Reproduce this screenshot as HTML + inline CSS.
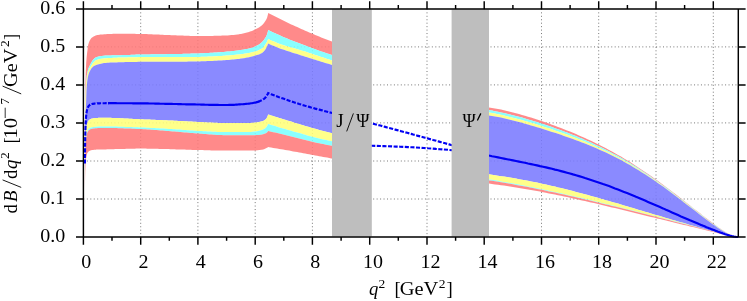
<!DOCTYPE html>
<html><head><meta charset="utf-8"><title>plot</title>
<style>html,body{margin:0;padding:0;background:#fff}body{width:747px;height:301px;overflow:hidden;font-family:"Liberation Serif",serif}svg{display:block;will-change:transform}text{font-family:"Liberation Serif",serif}</style></head>
<body>
<svg width="747" height="301" viewBox="0 0 747 301">
<rect width="747" height="301" fill="#fff"/>
<path d="M140.7,8.9V237.0M197.9,8.9V237.0M255.2,8.9V237.0M312.4,8.9V237.0M369.7,8.9V237.0M427.0,8.9V237.0M484.2,8.9V237.0M541.5,8.9V237.0M598.7,8.9V237.0M656.0,8.9V237.0M713.3,8.9V237.0M83.4,199.0H738.3M83.4,161.0H738.3M83.4,122.9H738.3M83.4,84.9H738.3M83.4,46.9H738.3" stroke="#000" stroke-width="0.9" stroke-dasharray="1 2.45" fill="none" opacity="0.6"/>
<path d="M84.9,132.6 85.0,117.4 85.1,106.3 85.2,97.8 85.3,91.0 85.4,85.6 85.5,81.1 85.6,77.3 85.7,74.0 85.8,71.2 85.9,68.8 86.0,66.7 86.1,64.8 86.2,63.1 86.3,61.6 86.4,60.2 86.5,58.9 86.6,57.8 86.7,56.7 86.8,55.7 86.9,54.8 87.0,53.9 87.1,53.1 87.2,52.3 87.3,51.6 87.4,50.8 87.5,49.9 87.6,49.0 87.7,48.1 87.8,47.2 87.9,46.5 88.0,45.9 88.1,45.4 88.2,44.9 88.3,44.5 88.4,44.1 88.5,43.8 88.6,43.5 88.7,43.2 88.8,42.9 88.9,42.6 89.0,42.3 89.1,42.1 89.2,41.8 89.3,41.6 89.4,41.4 89.5,41.1 89.6,40.9 89.7,40.7 89.8,40.5 89.9,40.3 90.0,40.1 90.2,39.7 90.5,39.2 90.8,38.9 91.0,38.5 91.2,38.2 91.5,38.0 91.8,37.8 92.0,37.6 92.2,37.4 92.5,37.2 92.8,37.0 93.0,36.9 93.2,36.8 93.5,36.6 93.8,36.5 94.0,36.3 94.2,36.2 94.5,36.1 94.8,36.0 95.0,35.8 95.2,35.7 95.5,35.6 95.8,35.5 96.0,35.4 96.2,35.3 96.5,35.3 96.8,35.2 97.0,35.1 97.2,35.1 97.5,35.0 97.8,35.0 98.0,34.9 98.2,34.9 98.5,34.9 98.8,34.8 99.0,34.8 99.2,34.7 99.5,34.7 99.8,34.7 100.0,34.6 101.0,34.5 102.0,34.4 103.0,34.4 104.0,34.3 105.0,34.2 106.0,34.2 107.0,34.1 108.0,34.1 109.0,34.0 110.0,34.0 111.0,33.9 112.0,33.9 113.0,33.8 114.0,33.8 115.0,33.8 116.0,33.8 117.0,33.7 118.0,33.7 119.0,33.7 120.0,33.7 121.0,33.7 122.0,33.7 123.0,33.7 124.0,33.7 125.0,33.7 126.0,33.7 127.0,33.7 128.0,33.7 129.0,33.7 130.0,33.8 131.0,33.8 132.0,33.8 133.0,33.8 134.0,33.8 135.0,33.8 136.0,33.9 137.0,33.9 138.0,33.9 139.0,33.9 140.0,33.9 141.0,34.0 142.0,34.0 143.0,34.0 144.0,34.0 145.0,34.1 146.0,34.1 147.0,34.1 148.0,34.2 149.0,34.2 150.0,34.2 151.0,34.3 152.0,34.3 153.0,34.4 154.0,34.4 155.0,34.5 156.0,34.5 157.0,34.5 158.0,34.6 159.0,34.6 160.0,34.7 161.0,34.7 162.0,34.8 163.0,34.8 164.0,34.9 165.0,34.9 166.0,35.0 167.0,35.0 168.0,35.0 169.0,35.1 170.0,35.1 171.0,35.2 172.0,35.2 173.0,35.2 174.0,35.3 175.0,35.3 176.0,35.3 177.0,35.4 178.0,35.4 179.0,35.5 180.0,35.5 181.0,35.5 182.0,35.6 183.0,35.6 184.0,35.7 185.0,35.7 186.0,35.7 187.0,35.8 188.0,35.8 189.0,35.8 190.0,35.9 191.0,35.9 192.0,35.9 193.0,36.0 194.0,36.0 195.0,36.0 196.0,36.0 197.0,36.0 198.0,36.0 199.0,36.0 200.0,36.0 201.0,36.0 202.0,36.0 203.0,36.0 204.0,36.0 205.0,36.0 206.0,36.0 207.0,35.9 208.0,35.9 209.0,35.9 210.0,35.9 211.0,35.9 212.0,35.9 213.0,35.9 214.0,35.8 215.0,35.8 216.0,35.8 217.0,35.8 218.0,35.8 219.0,35.7 220.0,35.7 221.0,35.7 222.0,35.6 223.0,35.6 224.0,35.6 225.0,35.5 226.0,35.5 227.0,35.4 228.0,35.4 229.0,35.3 230.0,35.2 231.0,35.1 232.0,35.1 233.0,35.0 234.0,34.9 235.0,34.8 236.0,34.7 237.0,34.6 238.0,34.4 239.0,34.3 240.0,34.1 241.0,33.9 242.0,33.7 243.0,33.5 244.0,33.2 245.0,33.0 246.0,32.8 247.0,32.5 248.0,32.2 249.0,31.9 250.0,31.6 251.0,31.2 252.0,30.9 253.0,30.5 254.0,30.0 255.0,29.6 256.0,29.1 257.0,28.6 258.0,28.1 259.0,27.5 260.0,26.8 261.0,26.0 262.0,25.2 263.0,24.2 264.0,23.0 265.0,21.6 266.0,20.0 267.0,18.1 268.0,14.2 268.2,13.0 269.2,13.5 271.2,14.6 273.2,15.6 275.2,16.6 277.2,17.6 279.2,18.6 281.2,19.6 283.2,20.6 285.2,21.5 287.2,22.5 289.2,23.4 291.2,24.4 293.2,25.3 295.2,26.2 297.2,27.1 299.2,28.0 301.2,28.9 303.2,29.8 305.2,30.7 307.2,31.5 309.2,32.4 311.2,33.2 313.2,34.1 315.2,34.9 317.2,35.8 319.2,36.6 321.2,37.4 323.2,38.2 325.2,39.0 327.2,39.8 329.2,40.5 331.2,41.3 332.0,41.6 L332.0,55.0 331.2,54.7 329.2,54.1 327.2,53.4 325.2,52.7 323.2,52.0 321.2,51.4 319.2,50.7 317.2,49.9 315.2,49.2 313.2,48.5 311.2,47.8 309.2,47.0 307.2,46.3 305.2,45.6 303.2,44.8 301.2,44.1 299.2,43.3 297.2,42.5 295.2,41.7 293.2,41.0 291.2,40.2 289.2,39.4 287.2,38.5 285.2,37.7 283.2,36.9 281.2,36.0 279.2,35.1 277.2,34.3 275.2,33.3 273.2,32.4 271.2,31.5 269.2,30.5 268.2,30.0 268.0,30.9 267.0,34.6 266.0,36.7 265.0,38.2 264.0,39.7 263.0,41.0 262.0,42.1 261.0,43.0 260.0,43.7 259.0,44.4 258.0,45.0 257.0,45.6 256.0,46.1 255.0,46.6 254.0,47.0 253.0,47.4 252.0,47.7 251.0,48.0 250.0,48.3 249.0,48.5 248.0,48.7 247.0,48.9 246.0,49.1 245.0,49.3 244.0,49.5 243.0,49.7 242.0,49.8 241.0,50.0 240.0,50.1 239.0,50.3 238.0,50.4 237.0,50.6 236.0,50.7 235.0,50.8 234.0,50.9 233.0,51.0 232.0,51.1 231.0,51.2 230.0,51.4 229.0,51.4 228.0,51.5 227.0,51.6 226.0,51.7 225.0,51.8 224.0,51.9 223.0,52.0 222.0,52.1 221.0,52.1 220.0,52.2 219.0,52.3 218.0,52.3 217.0,52.4 216.0,52.5 215.0,52.5 214.0,52.6 213.0,52.7 212.0,52.7 211.0,52.8 210.0,52.8 209.0,52.9 208.0,53.0 207.0,53.0 206.0,53.1 205.0,53.1 204.0,53.2 203.0,53.2 202.0,53.3 201.0,53.3 200.0,53.3 199.0,53.4 198.0,53.4 197.0,53.4 196.0,53.5 195.0,53.5 194.0,53.5 193.0,53.6 192.0,53.6 191.0,53.6 190.0,53.7 189.0,53.7 188.0,53.7 187.0,53.7 186.0,53.8 185.0,53.8 184.0,53.8 183.0,53.8 182.0,53.9 181.0,53.9 180.0,53.9 179.0,53.9 178.0,54.0 177.0,54.0 176.0,54.0 175.0,54.0 174.0,54.0 173.0,54.1 172.0,54.1 171.0,54.1 170.0,54.1 169.0,54.1 168.0,54.1 167.0,54.1 166.0,54.2 165.0,54.2 164.0,54.2 163.0,54.2 162.0,54.2 161.0,54.2 160.0,54.2 159.0,54.2 158.0,54.3 157.0,54.3 156.0,54.3 155.0,54.3 154.0,54.3 153.0,54.3 152.0,54.3 151.0,54.3 150.0,54.4 149.0,54.4 148.0,54.4 147.0,54.4 146.0,54.4 145.0,54.4 144.0,54.5 143.0,54.5 142.0,54.5 141.0,54.5 140.0,54.5 139.0,54.6 138.0,54.6 137.0,54.6 136.0,54.6 135.0,54.7 134.0,54.7 133.0,54.7 132.0,54.8 131.0,54.8 130.0,54.9 129.0,54.9 128.0,54.9 127.0,55.0 126.0,55.0 125.0,55.0 124.0,55.1 123.0,55.1 122.0,55.1 121.0,55.2 120.0,55.2 119.0,55.2 118.0,55.2 117.0,55.2 116.0,55.3 115.0,55.3 114.0,55.3 113.0,55.3 112.0,55.3 111.0,55.4 110.0,55.4 109.0,55.4 108.0,55.5 107.0,55.5 106.0,55.5 105.0,55.6 104.0,55.7 103.0,55.8 102.0,55.9 101.0,56.1 100.0,56.2 99.8,56.3 99.5,56.3 99.2,56.3 99.0,56.4 98.8,56.5 98.5,56.5 98.2,56.6 98.0,56.6 97.8,56.7 97.5,56.8 97.2,56.9 97.0,56.9 96.8,57.0 96.5,57.1 96.2,57.2 96.0,57.3 95.8,57.4 95.5,57.6 95.2,57.7 95.0,57.9 94.8,58.1 94.5,58.3 94.2,58.5 94.0,58.8 93.8,59.0 93.5,59.3 93.2,59.5 93.0,59.8 92.8,60.1 92.5,60.5 92.2,60.9 92.0,61.3 91.8,61.7 91.5,62.1 91.2,62.5 91.0,63.0 90.8,63.5 90.5,64.0 90.2,64.6 90.0,65.0 89.9,65.2 89.8,65.4 89.7,65.6 89.6,65.8 89.5,66.0 89.4,66.2 89.3,66.4 89.2,66.6 89.1,66.9 89.0,67.1 88.9,67.3 88.8,67.6 88.7,67.8 88.6,68.1 88.5,68.3 88.4,68.6 88.3,68.9 88.2,69.2 88.1,69.5 88.0,69.9 87.9,70.2 87.8,70.6 87.7,71.0 87.6,71.4 87.5,71.8 87.4,72.2 87.3,72.7 87.2,73.3 87.1,73.8 87.0,74.4 86.9,75.1 86.8,75.8 86.7,76.6 86.6,77.4 86.5,78.3 86.4,79.4 86.3,80.5 86.2,81.8 86.1,83.2 86.0,84.8 85.9,86.7 85.8,88.8 85.7,91.2 85.6,94.1 85.5,97.4 85.4,101.5 85.3,106.3 85.2,112.3 85.1,120.0 85.0,129.9 84.9,143.5Z" fill="#ff7979" fill-opacity="0.87"/>
<path d="M84.9,143.5 85.0,129.9 85.1,120.0 85.2,112.3 85.3,106.3 85.4,101.5 85.5,97.4 85.6,94.1 85.7,91.2 85.8,88.8 85.9,86.7 86.0,84.8 86.1,83.2 86.2,81.8 86.3,80.5 86.4,79.4 86.5,78.3 86.6,77.4 86.7,76.6 86.8,75.8 86.9,75.1 87.0,74.4 87.1,73.8 87.2,73.3 87.3,72.7 87.4,72.2 87.5,71.8 87.6,71.4 87.7,71.0 87.8,70.6 87.9,70.2 88.0,69.9 88.1,69.5 88.2,69.2 88.3,68.9 88.4,68.6 88.5,68.3 88.6,68.1 88.7,67.8 88.8,67.6 88.9,67.3 89.0,67.1 89.1,66.9 89.2,66.6 89.3,66.4 89.4,66.2 89.5,66.0 89.6,65.8 89.7,65.6 89.8,65.4 89.9,65.2 90.0,65.0 90.2,64.6 90.5,64.0 90.8,63.5 91.0,63.0 91.2,62.5 91.5,62.1 91.8,61.7 92.0,61.3 92.2,60.9 92.5,60.5 92.8,60.1 93.0,59.8 93.2,59.5 93.5,59.3 93.8,59.0 94.0,58.8 94.2,58.5 94.5,58.3 94.8,58.1 95.0,57.9 95.2,57.7 95.5,57.6 95.8,57.4 96.0,57.3 96.2,57.2 96.5,57.1 96.8,57.0 97.0,56.9 97.2,56.9 97.5,56.8 97.8,56.7 98.0,56.6 98.2,56.6 98.5,56.5 98.8,56.5 99.0,56.4 99.2,56.3 99.5,56.3 99.8,56.3 100.0,56.2 101.0,56.1 102.0,55.9 103.0,55.8 104.0,55.7 105.0,55.6 106.0,55.5 107.0,55.5 108.0,55.5 109.0,55.4 110.0,55.4 111.0,55.4 112.0,55.3 113.0,55.3 114.0,55.3 115.0,55.3 116.0,55.3 117.0,55.2 118.0,55.2 119.0,55.2 120.0,55.2 121.0,55.2 122.0,55.1 123.0,55.1 124.0,55.1 125.0,55.0 126.0,55.0 127.0,55.0 128.0,54.9 129.0,54.9 130.0,54.9 131.0,54.8 132.0,54.8 133.0,54.7 134.0,54.7 135.0,54.7 136.0,54.6 137.0,54.6 138.0,54.6 139.0,54.6 140.0,54.5 141.0,54.5 142.0,54.5 143.0,54.5 144.0,54.5 145.0,54.4 146.0,54.4 147.0,54.4 148.0,54.4 149.0,54.4 150.0,54.4 151.0,54.3 152.0,54.3 153.0,54.3 154.0,54.3 155.0,54.3 156.0,54.3 157.0,54.3 158.0,54.3 159.0,54.2 160.0,54.2 161.0,54.2 162.0,54.2 163.0,54.2 164.0,54.2 165.0,54.2 166.0,54.2 167.0,54.1 168.0,54.1 169.0,54.1 170.0,54.1 171.0,54.1 172.0,54.1 173.0,54.1 174.0,54.0 175.0,54.0 176.0,54.0 177.0,54.0 178.0,54.0 179.0,53.9 180.0,53.9 181.0,53.9 182.0,53.9 183.0,53.8 184.0,53.8 185.0,53.8 186.0,53.8 187.0,53.7 188.0,53.7 189.0,53.7 190.0,53.7 191.0,53.6 192.0,53.6 193.0,53.6 194.0,53.5 195.0,53.5 196.0,53.5 197.0,53.4 198.0,53.4 199.0,53.4 200.0,53.3 201.0,53.3 202.0,53.3 203.0,53.2 204.0,53.2 205.0,53.1 206.0,53.1 207.0,53.0 208.0,53.0 209.0,52.9 210.0,52.8 211.0,52.8 212.0,52.7 213.0,52.7 214.0,52.6 215.0,52.5 216.0,52.5 217.0,52.4 218.0,52.3 219.0,52.3 220.0,52.2 221.0,52.1 222.0,52.1 223.0,52.0 224.0,51.9 225.0,51.8 226.0,51.7 227.0,51.6 228.0,51.5 229.0,51.4 230.0,51.4 231.0,51.2 232.0,51.1 233.0,51.0 234.0,50.9 235.0,50.8 236.0,50.7 237.0,50.6 238.0,50.4 239.0,50.3 240.0,50.1 241.0,50.0 242.0,49.8 243.0,49.7 244.0,49.5 245.0,49.3 246.0,49.1 247.0,48.9 248.0,48.7 249.0,48.5 250.0,48.3 251.0,48.0 252.0,47.7 253.0,47.4 254.0,47.0 255.0,46.6 256.0,46.1 257.0,45.6 258.0,45.0 259.0,44.4 260.0,43.7 261.0,43.0 262.0,42.1 263.0,41.0 264.0,39.7 265.0,38.2 266.0,36.7 267.0,34.6 268.0,30.9 268.2,30.0 269.2,30.5 271.2,31.5 273.2,32.4 275.2,33.3 277.2,34.3 279.2,35.1 281.2,36.0 283.2,36.9 285.2,37.7 287.2,38.5 289.2,39.4 291.2,40.2 293.2,41.0 295.2,41.7 297.2,42.5 299.2,43.3 301.2,44.1 303.2,44.8 305.2,45.6 307.2,46.3 309.2,47.0 311.2,47.8 313.2,48.5 315.2,49.2 317.2,49.9 319.2,50.7 321.2,51.4 323.2,52.0 325.2,52.7 327.2,53.4 329.2,54.1 331.2,54.7 332.0,55.0 L332.0,60.6 331.2,60.3 329.2,59.6 327.2,58.9 325.2,58.2 323.2,57.6 321.2,56.9 319.2,56.2 317.2,55.6 315.2,54.9 313.2,54.2 311.2,53.6 309.2,52.9 307.2,52.3 305.2,51.6 303.2,51.0 301.2,50.4 299.2,49.8 297.2,49.2 295.2,48.6 293.2,48.0 291.2,47.4 289.2,46.9 287.2,46.3 285.2,45.7 283.2,45.1 281.2,44.4 279.2,43.7 277.2,42.9 275.2,42.1 273.2,41.3 271.2,40.4 269.2,39.5 268.2,39.0 268.0,39.5 267.0,41.8 266.0,43.5 265.0,45.0 264.0,46.6 263.0,47.8 262.0,48.5 261.0,49.1 260.0,49.6 259.0,50.1 258.0,50.5 257.0,50.9 256.0,51.2 255.0,51.5 254.0,51.8 253.0,52.0 252.0,52.3 251.0,52.5 250.0,52.7 249.0,52.9 248.0,53.1 247.0,53.3 246.0,53.4 245.0,53.6 244.0,53.8 243.0,53.9 242.0,54.0 241.0,54.2 240.0,54.3 239.0,54.4 238.0,54.5 237.0,54.6 236.0,54.7 235.0,54.8 234.0,54.9 233.0,55.0 232.0,55.1 231.0,55.2 230.0,55.3 229.0,55.4 228.0,55.4 227.0,55.5 226.0,55.6 225.0,55.7 224.0,55.8 223.0,55.8 222.0,55.9 221.0,55.9 220.0,56.0 219.0,56.1 218.0,56.1 217.0,56.2 216.0,56.2 215.0,56.3 214.0,56.3 213.0,56.4 212.0,56.4 211.0,56.5 210.0,56.5 209.0,56.6 208.0,56.6 207.0,56.7 206.0,56.7 205.0,56.7 204.0,56.8 203.0,56.8 202.0,56.8 201.0,56.8 200.0,56.9 199.0,56.9 198.0,56.9 197.0,56.9 196.0,56.9 195.0,57.0 194.0,57.0 193.0,57.0 192.0,57.0 191.0,57.0 190.0,57.0 189.0,57.0 188.0,57.0 187.0,57.0 186.0,57.1 185.0,57.1 184.0,57.1 183.0,57.1 182.0,57.1 181.0,57.1 180.0,57.1 179.0,57.1 178.0,57.1 177.0,57.1 176.0,57.1 175.0,57.1 174.0,57.1 173.0,57.1 172.0,57.1 171.0,57.1 170.0,57.1 169.0,57.1 168.0,57.1 167.0,57.1 166.0,57.1 165.0,57.1 164.0,57.1 163.0,57.1 162.0,57.1 161.0,57.1 160.0,57.1 159.0,57.1 158.0,57.1 157.0,57.1 156.0,57.1 155.0,57.1 154.0,57.1 153.0,57.1 152.0,57.1 151.0,57.1 150.0,57.1 149.0,57.1 148.0,57.1 147.0,57.1 146.0,57.1 145.0,57.1 144.0,57.1 143.0,57.1 142.0,57.1 141.0,57.1 140.0,57.1 139.0,57.1 138.0,57.1 137.0,57.2 136.0,57.2 135.0,57.2 134.0,57.2 133.0,57.2 132.0,57.2 131.0,57.3 130.0,57.3 129.0,57.3 128.0,57.3 127.0,57.4 126.0,57.4 125.0,57.4 124.0,57.5 123.0,57.5 122.0,57.5 121.0,57.6 120.0,57.6 119.0,57.6 118.0,57.6 117.0,57.7 116.0,57.7 115.0,57.8 114.0,57.8 113.0,57.8 112.0,57.9 111.0,57.9 110.0,58.0 109.0,58.0 108.0,58.1 107.0,58.2 106.0,58.3 105.0,58.3 104.0,58.4 103.0,58.6 102.0,58.7 101.0,58.8 100.0,59.0 99.8,59.1 99.5,59.1 99.2,59.2 99.0,59.2 98.8,59.3 98.5,59.4 98.2,59.4 98.0,59.5 97.8,59.6 97.5,59.7 97.2,59.8 97.0,59.9 96.8,60.0 96.5,60.1 96.2,60.2 96.0,60.3 95.8,60.4 95.5,60.6 95.2,60.8 95.0,61.0 94.8,61.2 94.5,61.4 94.2,61.7 94.0,61.9 93.8,62.2 93.5,62.4 93.2,62.7 93.0,63.0 92.8,63.3 92.5,63.7 92.2,64.0 92.0,64.4 91.8,64.8 91.5,65.2 91.2,65.7 91.0,66.1 90.8,66.5 90.5,66.9 90.2,67.4 90.0,67.8 89.9,68.0 89.8,68.1 89.7,68.3 89.6,68.5 89.5,68.7 89.4,68.9 89.3,69.1 89.2,69.3 89.1,69.5 89.0,69.7 88.9,70.0 88.8,70.2 88.7,70.4 88.6,70.7 88.5,70.9 88.4,71.2 88.3,71.5 88.2,71.8 88.1,72.1 88.0,72.4 87.9,72.7 87.8,73.1 87.7,73.5 87.6,73.9 87.5,74.3 87.4,74.8 87.3,75.2 87.2,75.8 87.1,76.3 87.0,76.9 86.9,77.6 86.8,78.3 86.7,79.0 86.6,79.9 86.5,80.8 86.4,81.8 86.3,83.0 86.2,84.2 86.1,85.7 86.0,87.3 85.9,89.1 85.8,91.2 85.7,93.6 85.6,96.4 85.5,99.7 85.4,103.7 85.3,108.5 85.2,114.5 85.1,122.0 85.0,131.7 84.9,145.2Z" fill="#79ffff" fill-opacity="0.87"/>
<path d="M84.9,145.2 85.0,131.7 85.1,122.0 85.2,114.5 85.3,108.5 85.4,103.7 85.5,99.7 85.6,96.4 85.7,93.6 85.8,91.2 85.9,89.1 86.0,87.3 86.1,85.7 86.2,84.2 86.3,83.0 86.4,81.8 86.5,80.8 86.6,79.9 86.7,79.0 86.8,78.3 86.9,77.6 87.0,76.9 87.1,76.3 87.2,75.8 87.3,75.2 87.4,74.8 87.5,74.3 87.6,73.9 87.7,73.5 87.8,73.1 87.9,72.7 88.0,72.4 88.1,72.1 88.2,71.8 88.3,71.5 88.4,71.2 88.5,70.9 88.6,70.7 88.7,70.4 88.8,70.2 88.9,70.0 89.0,69.7 89.1,69.5 89.2,69.3 89.3,69.1 89.4,68.9 89.5,68.7 89.6,68.5 89.7,68.3 89.8,68.1 89.9,68.0 90.0,67.8 90.2,67.4 90.5,66.9 90.8,66.5 91.0,66.1 91.2,65.7 91.5,65.2 91.8,64.8 92.0,64.4 92.2,64.0 92.5,63.7 92.8,63.3 93.0,63.0 93.2,62.7 93.5,62.4 93.8,62.2 94.0,61.9 94.2,61.7 94.5,61.4 94.8,61.2 95.0,61.0 95.2,60.8 95.5,60.6 95.8,60.4 96.0,60.3 96.2,60.2 96.5,60.1 96.8,60.0 97.0,59.9 97.2,59.8 97.5,59.7 97.8,59.6 98.0,59.5 98.2,59.4 98.5,59.4 98.8,59.3 99.0,59.2 99.2,59.2 99.5,59.1 99.8,59.1 100.0,59.0 101.0,58.8 102.0,58.7 103.0,58.6 104.0,58.4 105.0,58.3 106.0,58.3 107.0,58.2 108.0,58.1 109.0,58.0 110.0,58.0 111.0,57.9 112.0,57.9 113.0,57.8 114.0,57.8 115.0,57.8 116.0,57.7 117.0,57.7 118.0,57.6 119.0,57.6 120.0,57.6 121.0,57.6 122.0,57.5 123.0,57.5 124.0,57.5 125.0,57.4 126.0,57.4 127.0,57.4 128.0,57.3 129.0,57.3 130.0,57.3 131.0,57.3 132.0,57.2 133.0,57.2 134.0,57.2 135.0,57.2 136.0,57.2 137.0,57.2 138.0,57.1 139.0,57.1 140.0,57.1 141.0,57.1 142.0,57.1 143.0,57.1 144.0,57.1 145.0,57.1 146.0,57.1 147.0,57.1 148.0,57.1 149.0,57.1 150.0,57.1 151.0,57.1 152.0,57.1 153.0,57.1 154.0,57.1 155.0,57.1 156.0,57.1 157.0,57.1 158.0,57.1 159.0,57.1 160.0,57.1 161.0,57.1 162.0,57.1 163.0,57.1 164.0,57.1 165.0,57.1 166.0,57.1 167.0,57.1 168.0,57.1 169.0,57.1 170.0,57.1 171.0,57.1 172.0,57.1 173.0,57.1 174.0,57.1 175.0,57.1 176.0,57.1 177.0,57.1 178.0,57.1 179.0,57.1 180.0,57.1 181.0,57.1 182.0,57.1 183.0,57.1 184.0,57.1 185.0,57.1 186.0,57.1 187.0,57.0 188.0,57.0 189.0,57.0 190.0,57.0 191.0,57.0 192.0,57.0 193.0,57.0 194.0,57.0 195.0,57.0 196.0,56.9 197.0,56.9 198.0,56.9 199.0,56.9 200.0,56.9 201.0,56.8 202.0,56.8 203.0,56.8 204.0,56.8 205.0,56.7 206.0,56.7 207.0,56.7 208.0,56.6 209.0,56.6 210.0,56.5 211.0,56.5 212.0,56.4 213.0,56.4 214.0,56.3 215.0,56.3 216.0,56.2 217.0,56.2 218.0,56.1 219.0,56.1 220.0,56.0 221.0,55.9 222.0,55.9 223.0,55.8 224.0,55.8 225.0,55.7 226.0,55.6 227.0,55.5 228.0,55.4 229.0,55.4 230.0,55.3 231.0,55.2 232.0,55.1 233.0,55.0 234.0,54.9 235.0,54.8 236.0,54.7 237.0,54.6 238.0,54.5 239.0,54.4 240.0,54.3 241.0,54.2 242.0,54.0 243.0,53.9 244.0,53.8 245.0,53.6 246.0,53.4 247.0,53.3 248.0,53.1 249.0,52.9 250.0,52.7 251.0,52.5 252.0,52.3 253.0,52.0 254.0,51.8 255.0,51.5 256.0,51.2 257.0,50.9 258.0,50.5 259.0,50.1 260.0,49.6 261.0,49.1 262.0,48.5 263.0,47.8 264.0,46.6 265.0,45.0 266.0,43.5 267.0,41.8 268.0,39.5 268.2,39.0 269.2,39.5 271.2,40.4 273.2,41.3 275.2,42.1 277.2,42.9 279.2,43.7 281.2,44.4 283.2,45.1 285.2,45.7 287.2,46.3 289.2,46.9 291.2,47.4 293.2,48.0 295.2,48.6 297.2,49.2 299.2,49.8 301.2,50.4 303.2,51.0 305.2,51.6 307.2,52.3 309.2,52.9 311.2,53.6 313.2,54.2 315.2,54.9 317.2,55.6 319.2,56.2 321.2,56.9 323.2,57.6 325.2,58.2 327.2,58.9 329.2,59.6 331.2,60.3 332.0,60.6 L332.0,65.0 331.2,64.8 329.2,64.1 327.2,63.5 325.2,62.9 323.2,62.3 321.2,61.7 319.2,61.1 317.2,60.4 315.2,59.8 313.2,59.2 311.2,58.6 309.2,57.9 307.2,57.3 305.2,56.7 303.2,56.0 301.2,55.4 299.2,54.7 297.2,54.1 295.2,53.5 293.2,52.9 291.2,52.3 289.2,51.6 287.2,51.0 285.2,50.3 283.2,49.6 281.2,48.9 279.2,48.2 277.2,47.4 275.2,46.6 273.2,45.7 271.2,44.9 269.2,44.0 268.2,43.6 268.0,44.1 267.0,46.5 266.0,48.4 265.0,49.9 264.0,51.2 263.0,52.2 262.0,53.0 261.0,53.5 260.0,54.0 259.0,54.4 258.0,54.7 257.0,55.0 256.0,55.3 255.0,55.6 254.0,55.9 253.0,56.2 252.0,56.5 251.0,56.7 250.0,57.0 249.0,57.2 248.0,57.4 247.0,57.6 246.0,57.8 245.0,58.0 244.0,58.2 243.0,58.3 242.0,58.5 241.0,58.6 240.0,58.7 239.0,58.9 238.0,59.0 237.0,59.1 236.0,59.2 235.0,59.3 234.0,59.4 233.0,59.5 232.0,59.6 231.0,59.7 230.0,59.8 229.0,59.9 228.0,59.9 227.0,60.0 226.0,60.1 225.0,60.2 224.0,60.3 223.0,60.3 222.0,60.4 221.0,60.4 220.0,60.5 219.0,60.6 218.0,60.6 217.0,60.7 216.0,60.7 215.0,60.8 214.0,60.8 213.0,60.9 212.0,60.9 211.0,61.0 210.0,61.0 209.0,61.0 208.0,61.1 207.0,61.1 206.0,61.2 205.0,61.2 204.0,61.2 203.0,61.3 202.0,61.3 201.0,61.3 200.0,61.4 199.0,61.4 198.0,61.4 197.0,61.4 196.0,61.5 195.0,61.5 194.0,61.5 193.0,61.5 192.0,61.6 191.0,61.6 190.0,61.6 189.0,61.6 188.0,61.6 187.0,61.7 186.0,61.7 185.0,61.7 184.0,61.7 183.0,61.7 182.0,61.8 181.0,61.8 180.0,61.8 179.0,61.8 178.0,61.8 177.0,61.8 176.0,61.8 175.0,61.8 174.0,61.8 173.0,61.8 172.0,61.8 171.0,61.8 170.0,61.8 169.0,61.8 168.0,61.8 167.0,61.8 166.0,61.8 165.0,61.8 164.0,61.8 163.0,61.8 162.0,61.8 161.0,61.8 160.0,61.8 159.0,61.8 158.0,61.8 157.0,61.8 156.0,61.8 155.0,61.8 154.0,61.8 153.0,61.8 152.0,61.8 151.0,61.8 150.0,61.8 149.0,61.8 148.0,61.8 147.0,61.8 146.0,61.8 145.0,61.8 144.0,61.8 143.0,61.8 142.0,61.8 141.0,61.8 140.0,61.8 139.0,61.8 138.0,61.8 137.0,61.9 136.0,61.9 135.0,61.9 134.0,61.9 133.0,61.9 132.0,61.9 131.0,62.0 130.0,62.0 129.0,62.0 128.0,62.0 127.0,62.1 126.0,62.1 125.0,62.1 124.0,62.2 123.0,62.2 122.0,62.2 121.0,62.3 120.0,62.3 119.0,62.3 118.0,62.3 117.0,62.4 116.0,62.4 115.0,62.4 114.0,62.4 113.0,62.5 112.0,62.5 111.0,62.6 110.0,62.6 109.0,62.7 108.0,62.7 107.0,62.8 106.0,62.9 105.0,63.0 104.0,63.1 103.0,63.3 102.0,63.5 101.0,63.8 100.0,64.0 99.8,64.1 99.5,64.1 99.2,64.2 99.0,64.2 98.8,64.3 98.5,64.3 98.2,64.4 98.0,64.5 97.8,64.5 97.5,64.6 97.2,64.7 97.0,64.8 96.8,64.8 96.5,64.9 96.2,65.0 96.0,65.1 95.8,65.2 95.5,65.3 95.2,65.4 95.0,65.5 94.8,65.6 94.5,65.7 94.2,65.9 94.0,66.0 93.8,66.2 93.5,66.3 93.2,66.5 93.0,66.7 92.8,67.0 92.5,67.2 92.2,67.4 92.0,67.7 91.8,68.0 91.5,68.3 91.2,68.7 91.0,69.1 90.8,69.5 90.5,69.9 90.2,70.4 90.0,70.9 89.9,71.0 89.8,71.3 89.7,71.5 89.6,71.7 89.5,71.9 89.4,72.1 89.3,72.3 89.2,72.6 89.1,72.8 89.0,73.1 88.9,73.4 88.8,73.7 88.7,74.0 88.6,74.3 88.5,74.6 88.4,75.0 88.3,75.3 88.2,75.7 88.1,76.2 88.0,76.6 87.9,77.1 87.8,77.6 87.7,78.1 87.6,78.7 87.5,79.4 87.4,80.1 87.3,80.8 87.2,81.6 87.1,82.6 87.0,83.6 86.9,84.7 86.8,85.9 86.7,87.2 86.6,88.7 86.5,90.7 86.4,93.4 86.3,96.4 86.2,99.5 86.1,102.3 86.0,104.7 85.9,106.8 85.8,109.1 85.7,111.6 85.6,114.5 85.5,117.7 85.4,121.4 85.3,125.8 85.2,131.1 85.1,137.7 85.0,146.2 84.9,157.7Z" fill="#ffff79" fill-opacity="0.87"/>
<path d="M84.9,157.7 85.0,146.2 85.1,137.7 85.2,131.1 85.3,125.8 85.4,121.4 85.5,117.7 85.6,114.5 85.7,111.6 85.8,109.1 85.9,106.8 86.0,104.7 86.1,102.3 86.2,99.5 86.3,96.4 86.4,93.4 86.5,90.7 86.6,88.7 86.7,87.2 86.8,85.9 86.9,84.7 87.0,83.6 87.1,82.6 87.2,81.6 87.3,80.8 87.4,80.1 87.5,79.4 87.6,78.7 87.7,78.1 87.8,77.6 87.9,77.1 88.0,76.6 88.1,76.2 88.2,75.7 88.3,75.3 88.4,75.0 88.5,74.6 88.6,74.3 88.7,74.0 88.8,73.7 88.9,73.4 89.0,73.1 89.1,72.8 89.2,72.6 89.3,72.3 89.4,72.1 89.5,71.9 89.6,71.7 89.7,71.5 89.8,71.3 89.9,71.0 90.0,70.9 90.2,70.4 90.5,69.9 90.8,69.5 91.0,69.1 91.2,68.7 91.5,68.3 91.8,68.0 92.0,67.7 92.2,67.4 92.5,67.2 92.8,67.0 93.0,66.7 93.2,66.5 93.5,66.3 93.8,66.2 94.0,66.0 94.2,65.9 94.5,65.7 94.8,65.6 95.0,65.5 95.2,65.4 95.5,65.3 95.8,65.2 96.0,65.1 96.2,65.0 96.5,64.9 96.8,64.8 97.0,64.8 97.2,64.7 97.5,64.6 97.8,64.5 98.0,64.5 98.2,64.4 98.5,64.3 98.8,64.3 99.0,64.2 99.2,64.2 99.5,64.1 99.8,64.1 100.0,64.0 101.0,63.8 102.0,63.5 103.0,63.3 104.0,63.1 105.0,63.0 106.0,62.9 107.0,62.8 108.0,62.7 109.0,62.7 110.0,62.6 111.0,62.6 112.0,62.5 113.0,62.5 114.0,62.4 115.0,62.4 116.0,62.4 117.0,62.4 118.0,62.3 119.0,62.3 120.0,62.3 121.0,62.3 122.0,62.2 123.0,62.2 124.0,62.2 125.0,62.1 126.0,62.1 127.0,62.1 128.0,62.0 129.0,62.0 130.0,62.0 131.0,62.0 132.0,61.9 133.0,61.9 134.0,61.9 135.0,61.9 136.0,61.9 137.0,61.9 138.0,61.8 139.0,61.8 140.0,61.8 141.0,61.8 142.0,61.8 143.0,61.8 144.0,61.8 145.0,61.8 146.0,61.8 147.0,61.8 148.0,61.8 149.0,61.8 150.0,61.8 151.0,61.8 152.0,61.8 153.0,61.8 154.0,61.8 155.0,61.8 156.0,61.8 157.0,61.8 158.0,61.8 159.0,61.8 160.0,61.8 161.0,61.8 162.0,61.8 163.0,61.8 164.0,61.8 165.0,61.8 166.0,61.8 167.0,61.8 168.0,61.8 169.0,61.8 170.0,61.8 171.0,61.8 172.0,61.8 173.0,61.8 174.0,61.8 175.0,61.8 176.0,61.8 177.0,61.8 178.0,61.8 179.0,61.8 180.0,61.8 181.0,61.8 182.0,61.8 183.0,61.7 184.0,61.7 185.0,61.7 186.0,61.7 187.0,61.7 188.0,61.6 189.0,61.6 190.0,61.6 191.0,61.6 192.0,61.6 193.0,61.5 194.0,61.5 195.0,61.5 196.0,61.5 197.0,61.4 198.0,61.4 199.0,61.4 200.0,61.4 201.0,61.3 202.0,61.3 203.0,61.3 204.0,61.2 205.0,61.2 206.0,61.2 207.0,61.1 208.0,61.1 209.0,61.0 210.0,61.0 211.0,61.0 212.0,60.9 213.0,60.9 214.0,60.8 215.0,60.8 216.0,60.7 217.0,60.7 218.0,60.6 219.0,60.6 220.0,60.5 221.0,60.4 222.0,60.4 223.0,60.3 224.0,60.3 225.0,60.2 226.0,60.1 227.0,60.0 228.0,59.9 229.0,59.9 230.0,59.8 231.0,59.7 232.0,59.6 233.0,59.5 234.0,59.4 235.0,59.3 236.0,59.2 237.0,59.1 238.0,59.0 239.0,58.9 240.0,58.7 241.0,58.6 242.0,58.5 243.0,58.3 244.0,58.2 245.0,58.0 246.0,57.8 247.0,57.6 248.0,57.4 249.0,57.2 250.0,57.0 251.0,56.7 252.0,56.5 253.0,56.2 254.0,55.9 255.0,55.6 256.0,55.3 257.0,55.0 258.0,54.7 259.0,54.4 260.0,54.0 261.0,53.5 262.0,53.0 263.0,52.2 264.0,51.2 265.0,49.9 266.0,48.4 267.0,46.5 268.0,44.1 268.2,43.6 269.2,44.0 271.2,44.9 273.2,45.7 275.2,46.6 277.2,47.4 279.2,48.2 281.2,48.9 283.2,49.6 285.2,50.3 287.2,51.0 289.2,51.6 291.2,52.3 293.2,52.9 295.2,53.5 297.2,54.1 299.2,54.7 301.2,55.4 303.2,56.0 305.2,56.7 307.2,57.3 309.2,57.9 311.2,58.6 313.2,59.2 315.2,59.8 317.2,60.4 319.2,61.1 321.2,61.7 323.2,62.3 325.2,62.9 327.2,63.5 329.2,64.1 331.2,64.8 332.0,65.0 L332.0,133.1 331.2,132.9 329.2,132.4 327.2,131.9 325.2,131.4 323.2,130.9 321.2,130.4 319.2,129.9 317.2,129.3 315.2,128.8 313.2,128.2 311.2,127.7 309.2,127.1 307.2,126.5 305.2,125.9 303.2,125.3 301.2,124.7 299.2,124.1 297.2,123.5 295.2,122.9 293.2,122.2 291.2,121.6 289.2,121.0 287.2,120.4 285.2,119.8 283.2,119.2 281.2,118.6 279.2,118.0 277.2,117.3 275.2,116.7 273.2,116.1 271.2,115.4 269.2,114.8 268.2,114.5 268.0,115.0 267.0,117.4 266.0,119.0 265.0,119.8 264.0,120.4 263.0,120.9 262.0,121.3 261.0,121.6 260.0,121.8 259.0,122.0 258.0,122.2 257.0,122.3 256.0,122.5 255.0,122.6 254.0,122.7 253.0,122.8 252.0,122.8 251.0,122.9 250.0,122.9 249.0,122.9 248.0,122.9 247.0,122.9 246.0,122.9 245.0,122.9 244.0,122.9 243.0,123.0 242.0,123.0 241.0,123.0 240.0,123.0 239.0,123.0 238.0,123.0 237.0,123.0 236.0,123.0 235.0,123.0 234.0,123.0 233.0,123.0 232.0,123.0 231.0,123.0 230.0,123.0 229.0,123.0 228.0,123.0 227.0,123.0 226.0,123.0 225.0,123.0 224.0,123.0 223.0,123.0 222.0,123.0 221.0,123.0 220.0,122.9 219.0,122.9 218.0,122.9 217.0,122.8 216.0,122.8 215.0,122.8 214.0,122.7 213.0,122.7 212.0,122.6 211.0,122.6 210.0,122.5 209.0,122.5 208.0,122.4 207.0,122.4 206.0,122.3 205.0,122.3 204.0,122.2 203.0,122.2 202.0,122.1 201.0,122.1 200.0,122.0 199.0,122.0 198.0,121.9 197.0,121.9 196.0,121.8 195.0,121.8 194.0,121.7 193.0,121.7 192.0,121.6 191.0,121.6 190.0,121.5 189.0,121.4 188.0,121.4 187.0,121.3 186.0,121.3 185.0,121.2 184.0,121.2 183.0,121.1 182.0,121.1 181.0,121.0 180.0,121.0 179.0,120.9 178.0,120.9 177.0,120.8 176.0,120.8 175.0,120.7 174.0,120.7 173.0,120.6 172.0,120.6 171.0,120.5 170.0,120.5 169.0,120.4 168.0,120.4 167.0,120.3 166.0,120.3 165.0,120.3 164.0,120.2 163.0,120.2 162.0,120.1 161.0,120.1 160.0,120.0 159.0,120.0 158.0,120.0 157.0,119.9 156.0,119.9 155.0,119.8 154.0,119.8 153.0,119.8 152.0,119.7 151.0,119.7 150.0,119.6 149.0,119.6 148.0,119.6 147.0,119.5 146.0,119.5 145.0,119.4 144.0,119.4 143.0,119.3 142.0,119.3 141.0,119.3 140.0,119.2 139.0,119.2 138.0,119.1 137.0,119.1 136.0,119.0 135.0,119.0 134.0,118.9 133.0,118.9 132.0,118.8 131.0,118.8 130.0,118.7 129.0,118.7 128.0,118.6 127.0,118.6 126.0,118.5 125.0,118.5 124.0,118.4 123.0,118.3 122.0,118.3 121.0,118.2 120.0,118.2 119.0,118.1 118.0,118.1 117.0,118.0 116.0,118.0 115.0,118.0 114.0,117.9 113.0,117.9 112.0,117.9 111.0,117.8 110.0,117.8 109.0,117.8 108.0,117.7 107.0,117.7 106.0,117.7 105.0,117.7 104.0,117.7 103.0,117.7 102.0,117.7 101.0,117.7 100.0,117.8 99.8,117.8 99.5,117.8 99.2,117.8 99.0,117.8 98.8,117.8 98.5,117.8 98.2,117.8 98.0,117.9 97.8,117.9 97.5,117.9 97.2,117.9 97.0,117.9 96.8,117.9 96.5,117.9 96.2,118.0 96.0,118.0 95.8,118.0 95.5,118.0 95.2,118.0 95.0,118.1 94.8,118.1 94.5,118.1 94.2,118.1 94.0,118.2 93.8,118.2 93.5,118.3 93.2,118.3 93.0,118.3 92.8,118.4 92.5,118.4 92.2,118.5 92.0,118.5 91.8,118.6 91.5,118.7 91.2,118.8 91.0,118.8 90.8,118.9 90.5,119.1 90.2,119.2 90.0,119.3 89.9,119.4 89.8,119.4 89.7,119.5 89.6,119.6 89.5,119.6 89.4,119.7 89.3,119.8 89.2,119.9 89.1,120.0 89.0,120.0 88.9,120.1 88.8,120.2 88.7,120.4 88.6,120.5 88.5,120.6 88.4,120.7 88.3,120.9 88.2,121.0 88.1,121.2 88.0,121.4 87.9,121.5 87.8,121.7 87.7,121.9 87.6,122.2 87.5,122.4 87.4,122.7 87.3,123.0 87.2,123.3 87.1,123.6 87.0,124.0 86.9,124.4 86.8,124.9 86.7,125.4 86.6,125.9 86.5,126.5 86.4,127.2 86.3,128.0 86.2,128.8 86.1,129.8 86.0,130.9 85.9,132.1 85.8,133.6 85.7,135.3 85.6,137.2 85.5,139.6 85.4,142.3 85.3,145.7 85.2,149.9 85.1,155.2 85.0,162.2 84.9,171.7Z" fill="#7979ff" fill-opacity="0.87"/>
<path d="M84.9,171.7 85.0,162.2 85.1,155.2 85.2,149.9 85.3,145.7 85.4,142.3 85.5,139.6 85.6,137.2 85.7,135.3 85.8,133.6 85.9,132.1 86.0,130.9 86.1,129.8 86.2,128.8 86.3,128.0 86.4,127.2 86.5,126.5 86.6,125.9 86.7,125.4 86.8,124.9 86.9,124.4 87.0,124.0 87.1,123.6 87.2,123.3 87.3,123.0 87.4,122.7 87.5,122.4 87.6,122.2 87.7,121.9 87.8,121.7 87.9,121.5 88.0,121.4 88.1,121.2 88.2,121.0 88.3,120.9 88.4,120.7 88.5,120.6 88.6,120.5 88.7,120.4 88.8,120.2 88.9,120.1 89.0,120.0 89.1,120.0 89.2,119.9 89.3,119.8 89.4,119.7 89.5,119.6 89.6,119.6 89.7,119.5 89.8,119.4 89.9,119.4 90.0,119.3 90.2,119.2 90.5,119.1 90.8,118.9 91.0,118.8 91.2,118.8 91.5,118.7 91.8,118.6 92.0,118.5 92.2,118.5 92.5,118.4 92.8,118.4 93.0,118.3 93.2,118.3 93.5,118.3 93.8,118.2 94.0,118.2 94.2,118.1 94.5,118.1 94.8,118.1 95.0,118.1 95.2,118.0 95.5,118.0 95.8,118.0 96.0,118.0 96.2,118.0 96.5,117.9 96.8,117.9 97.0,117.9 97.2,117.9 97.5,117.9 97.8,117.9 98.0,117.9 98.2,117.8 98.5,117.8 98.8,117.8 99.0,117.8 99.2,117.8 99.5,117.8 99.8,117.8 100.0,117.8 101.0,117.7 102.0,117.7 103.0,117.7 104.0,117.7 105.0,117.7 106.0,117.7 107.0,117.7 108.0,117.7 109.0,117.8 110.0,117.8 111.0,117.8 112.0,117.9 113.0,117.9 114.0,117.9 115.0,118.0 116.0,118.0 117.0,118.0 118.0,118.1 119.0,118.1 120.0,118.2 121.0,118.2 122.0,118.3 123.0,118.3 124.0,118.4 125.0,118.5 126.0,118.5 127.0,118.6 128.0,118.6 129.0,118.7 130.0,118.7 131.0,118.8 132.0,118.8 133.0,118.9 134.0,118.9 135.0,119.0 136.0,119.0 137.0,119.1 138.0,119.1 139.0,119.2 140.0,119.2 141.0,119.3 142.0,119.3 143.0,119.3 144.0,119.4 145.0,119.4 146.0,119.5 147.0,119.5 148.0,119.6 149.0,119.6 150.0,119.6 151.0,119.7 152.0,119.7 153.0,119.8 154.0,119.8 155.0,119.8 156.0,119.9 157.0,119.9 158.0,120.0 159.0,120.0 160.0,120.0 161.0,120.1 162.0,120.1 163.0,120.2 164.0,120.2 165.0,120.3 166.0,120.3 167.0,120.3 168.0,120.4 169.0,120.4 170.0,120.5 171.0,120.5 172.0,120.6 173.0,120.6 174.0,120.7 175.0,120.7 176.0,120.8 177.0,120.8 178.0,120.9 179.0,120.9 180.0,121.0 181.0,121.0 182.0,121.1 183.0,121.1 184.0,121.2 185.0,121.2 186.0,121.3 187.0,121.3 188.0,121.4 189.0,121.4 190.0,121.5 191.0,121.6 192.0,121.6 193.0,121.7 194.0,121.7 195.0,121.8 196.0,121.8 197.0,121.9 198.0,121.9 199.0,122.0 200.0,122.0 201.0,122.1 202.0,122.1 203.0,122.2 204.0,122.2 205.0,122.3 206.0,122.3 207.0,122.4 208.0,122.4 209.0,122.5 210.0,122.5 211.0,122.6 212.0,122.6 213.0,122.7 214.0,122.7 215.0,122.8 216.0,122.8 217.0,122.8 218.0,122.9 219.0,122.9 220.0,122.9 221.0,123.0 222.0,123.0 223.0,123.0 224.0,123.0 225.0,123.0 226.0,123.0 227.0,123.0 228.0,123.0 229.0,123.0 230.0,123.0 231.0,123.0 232.0,123.0 233.0,123.0 234.0,123.0 235.0,123.0 236.0,123.0 237.0,123.0 238.0,123.0 239.0,123.0 240.0,123.0 241.0,123.0 242.0,123.0 243.0,123.0 244.0,122.9 245.0,122.9 246.0,122.9 247.0,122.9 248.0,122.9 249.0,122.9 250.0,122.9 251.0,122.9 252.0,122.8 253.0,122.8 254.0,122.7 255.0,122.6 256.0,122.5 257.0,122.3 258.0,122.2 259.0,122.0 260.0,121.8 261.0,121.6 262.0,121.3 263.0,120.9 264.0,120.4 265.0,119.8 266.0,119.0 267.0,117.4 268.0,115.0 268.2,114.5 269.2,114.8 271.2,115.4 273.2,116.1 275.2,116.7 277.2,117.3 279.2,118.0 281.2,118.6 283.2,119.2 285.2,119.8 287.2,120.4 289.2,121.0 291.2,121.6 293.2,122.2 295.2,122.9 297.2,123.5 299.2,124.1 301.2,124.7 303.2,125.3 305.2,125.9 307.2,126.5 309.2,127.1 311.2,127.7 313.2,128.2 315.2,128.8 317.2,129.3 319.2,129.9 321.2,130.4 323.2,130.9 325.2,131.4 327.2,131.9 329.2,132.4 331.2,132.9 332.0,133.1 L332.0,141.2 331.2,141.0 329.2,140.7 327.2,140.2 325.2,139.8 323.2,139.4 321.2,138.9 319.2,138.5 317.2,138.0 315.2,137.5 313.2,137.0 311.2,136.5 309.2,136.0 307.2,135.4 305.2,134.8 303.2,134.2 301.2,133.6 299.2,133.1 297.2,132.5 295.2,131.9 293.2,131.4 291.2,130.8 289.2,130.3 287.2,129.7 285.2,129.1 283.2,128.5 281.2,128.0 279.2,127.4 277.2,126.7 275.2,126.1 273.2,125.5 271.2,124.9 269.2,124.2 268.2,123.9 268.0,124.3 267.0,126.2 266.0,127.6 265.0,128.4 264.0,129.0 263.0,129.6 262.0,130.0 261.0,130.3 260.0,130.6 259.0,130.8 258.0,131.0 257.0,131.2 256.0,131.4 255.0,131.5 254.0,131.6 253.0,131.7 252.0,131.8 251.0,131.9 250.0,131.9 249.0,131.9 248.0,131.9 247.0,131.9 246.0,131.9 245.0,131.9 244.0,131.9 243.0,132.0 242.0,132.0 241.0,132.0 240.0,132.0 239.0,132.0 238.0,132.0 237.0,132.0 236.0,132.0 235.0,132.0 234.0,132.0 233.0,132.0 232.0,132.0 231.0,132.0 230.0,132.0 229.0,132.0 228.0,132.0 227.0,132.0 226.0,132.0 225.0,132.0 224.0,132.0 223.0,132.0 222.0,132.0 221.0,132.0 220.0,131.9 219.0,131.9 218.0,131.9 217.0,131.9 216.0,131.8 215.0,131.8 214.0,131.7 213.0,131.7 212.0,131.7 211.0,131.6 210.0,131.6 209.0,131.5 208.0,131.5 207.0,131.4 206.0,131.3 205.0,131.3 204.0,131.2 203.0,131.2 202.0,131.1 201.0,131.1 200.0,131.0 199.0,131.0 198.0,130.9 197.0,130.9 196.0,130.8 195.0,130.7 194.0,130.7 193.0,130.6 192.0,130.5 191.0,130.5 190.0,130.4 189.0,130.3 188.0,130.2 187.0,130.2 186.0,130.1 185.0,130.0 184.0,129.9 183.0,129.9 182.0,129.8 181.0,129.7 180.0,129.6 179.0,129.6 178.0,129.5 177.0,129.4 176.0,129.4 175.0,129.3 174.0,129.2 173.0,129.2 172.0,129.1 171.0,129.1 170.0,129.0 169.0,128.9 168.0,128.9 167.0,128.8 166.0,128.8 165.0,128.7 164.0,128.6 163.0,128.6 162.0,128.5 161.0,128.5 160.0,128.4 159.0,128.3 158.0,128.3 157.0,128.2 156.0,128.2 155.0,128.1 154.0,128.1 153.0,128.0 152.0,128.0 151.0,127.9 150.0,127.9 149.0,127.8 148.0,127.8 147.0,127.7 146.0,127.7 145.0,127.6 144.0,127.6 143.0,127.5 142.0,127.5 141.0,127.5 140.0,127.4 139.0,127.4 138.0,127.3 137.0,127.3 136.0,127.3 135.0,127.2 134.0,127.2 133.0,127.2 132.0,127.1 131.0,127.1 130.0,127.1 129.0,127.0 128.0,127.0 127.0,126.9 126.0,126.9 125.0,126.9 124.0,126.8 123.0,126.8 122.0,126.8 121.0,126.7 120.0,126.7 119.0,126.7 118.0,126.7 117.0,126.6 116.0,126.6 115.0,126.6 114.0,126.6 113.0,126.5 112.0,126.5 111.0,126.5 110.0,126.5 109.0,126.5 108.0,126.5 107.0,126.5 106.0,126.5 105.0,126.5 104.0,126.5 103.0,126.5 102.0,126.5 101.0,126.5 100.0,126.6 99.8,126.6 99.5,126.6 99.2,126.6 99.0,126.6 98.8,126.6 98.5,126.6 98.2,126.6 98.0,126.6 97.8,126.6 97.5,126.7 97.2,126.7 97.0,126.7 96.8,126.7 96.5,126.7 96.2,126.7 96.0,126.7 95.8,126.8 95.5,126.8 95.2,126.8 95.0,126.8 94.8,126.8 94.5,126.9 94.2,126.9 94.0,126.9 93.8,127.0 93.5,127.0 93.2,127.0 93.0,127.1 92.8,127.1 92.5,127.2 92.2,127.2 92.0,127.3 91.8,127.3 91.5,127.4 91.2,127.5 91.0,127.6 90.8,127.6 90.5,127.7 90.2,127.9 90.0,128.0 89.9,128.0 89.8,128.1 89.7,128.1 89.6,128.2 89.5,128.3 89.4,128.3 89.3,128.4 89.2,128.5 89.1,128.6 89.0,128.7 88.9,128.7 88.8,128.8 88.7,128.9 88.6,129.1 88.5,129.2 88.4,129.3 88.3,129.4 88.2,129.6 88.1,129.7 88.0,129.9 87.9,130.0 87.8,130.2 87.7,130.4 87.6,130.6 87.5,130.9 87.4,131.1 87.3,131.4 87.2,131.7 87.1,132.0 87.0,132.3 86.9,132.7 86.8,133.1 86.7,133.6 86.6,134.1 86.5,134.7 86.4,135.3 86.3,136.0 86.2,136.8 86.1,137.7 86.0,138.7 85.9,139.9 85.8,141.2 85.7,142.8 85.6,144.6 85.5,146.7 85.4,149.3 85.3,152.5 85.2,156.3 85.1,161.2 85.0,167.7 84.9,176.5Z" fill="#ffff79" fill-opacity="0.87"/>
<path d="M84.9,176.5 85.0,167.7 85.1,161.2 85.2,156.3 85.3,152.5 85.4,149.3 85.5,146.7 85.6,144.6 85.7,142.8 85.8,141.2 85.9,139.9 86.0,138.7 86.1,137.7 86.2,136.8 86.3,136.0 86.4,135.3 86.5,134.7 86.6,134.1 86.7,133.6 86.8,133.1 86.9,132.7 87.0,132.3 87.1,132.0 87.2,131.7 87.3,131.4 87.4,131.1 87.5,130.9 87.6,130.6 87.7,130.4 87.8,130.2 87.9,130.0 88.0,129.9 88.1,129.7 88.2,129.6 88.3,129.4 88.4,129.3 88.5,129.2 88.6,129.1 88.7,128.9 88.8,128.8 88.9,128.7 89.0,128.7 89.1,128.6 89.2,128.5 89.3,128.4 89.4,128.3 89.5,128.3 89.6,128.2 89.7,128.1 89.8,128.1 89.9,128.0 90.0,128.0 90.2,127.9 90.5,127.7 90.8,127.6 91.0,127.6 91.2,127.5 91.5,127.4 91.8,127.3 92.0,127.3 92.2,127.2 92.5,127.2 92.8,127.1 93.0,127.1 93.2,127.0 93.5,127.0 93.8,127.0 94.0,126.9 94.2,126.9 94.5,126.9 94.8,126.8 95.0,126.8 95.2,126.8 95.5,126.8 95.8,126.8 96.0,126.7 96.2,126.7 96.5,126.7 96.8,126.7 97.0,126.7 97.2,126.7 97.5,126.7 97.8,126.6 98.0,126.6 98.2,126.6 98.5,126.6 98.8,126.6 99.0,126.6 99.2,126.6 99.5,126.6 99.8,126.6 100.0,126.6 101.0,126.5 102.0,126.5 103.0,126.5 104.0,126.5 105.0,126.5 106.0,126.5 107.0,126.5 108.0,126.5 109.0,126.5 110.0,126.5 111.0,126.5 112.0,126.5 113.0,126.5 114.0,126.6 115.0,126.6 116.0,126.6 117.0,126.6 118.0,126.7 119.0,126.7 120.0,126.7 121.0,126.7 122.0,126.8 123.0,126.8 124.0,126.8 125.0,126.9 126.0,126.9 127.0,126.9 128.0,127.0 129.0,127.0 130.0,127.1 131.0,127.1 132.0,127.1 133.0,127.2 134.0,127.2 135.0,127.2 136.0,127.3 137.0,127.3 138.0,127.3 139.0,127.4 140.0,127.4 141.0,127.5 142.0,127.5 143.0,127.5 144.0,127.6 145.0,127.6 146.0,127.7 147.0,127.7 148.0,127.8 149.0,127.8 150.0,127.9 151.0,127.9 152.0,128.0 153.0,128.0 154.0,128.1 155.0,128.1 156.0,128.2 157.0,128.2 158.0,128.3 159.0,128.3 160.0,128.4 161.0,128.5 162.0,128.5 163.0,128.6 164.0,128.6 165.0,128.7 166.0,128.8 167.0,128.8 168.0,128.9 169.0,128.9 170.0,129.0 171.0,129.1 172.0,129.1 173.0,129.2 174.0,129.2 175.0,129.3 176.0,129.4 177.0,129.4 178.0,129.5 179.0,129.6 180.0,129.6 181.0,129.7 182.0,129.8 183.0,129.9 184.0,129.9 185.0,130.0 186.0,130.1 187.0,130.2 188.0,130.2 189.0,130.3 190.0,130.4 191.0,130.5 192.0,130.5 193.0,130.6 194.0,130.7 195.0,130.7 196.0,130.8 197.0,130.9 198.0,130.9 199.0,131.0 200.0,131.0 201.0,131.1 202.0,131.1 203.0,131.2 204.0,131.2 205.0,131.3 206.0,131.3 207.0,131.4 208.0,131.5 209.0,131.5 210.0,131.6 211.0,131.6 212.0,131.7 213.0,131.7 214.0,131.7 215.0,131.8 216.0,131.8 217.0,131.9 218.0,131.9 219.0,131.9 220.0,131.9 221.0,132.0 222.0,132.0 223.0,132.0 224.0,132.0 225.0,132.0 226.0,132.0 227.0,132.0 228.0,132.0 229.0,132.0 230.0,132.0 231.0,132.0 232.0,132.0 233.0,132.0 234.0,132.0 235.0,132.0 236.0,132.0 237.0,132.0 238.0,132.0 239.0,132.0 240.0,132.0 241.0,132.0 242.0,132.0 243.0,132.0 244.0,131.9 245.0,131.9 246.0,131.9 247.0,131.9 248.0,131.9 249.0,131.9 250.0,131.9 251.0,131.9 252.0,131.8 253.0,131.7 254.0,131.6 255.0,131.5 256.0,131.4 257.0,131.2 258.0,131.0 259.0,130.8 260.0,130.6 261.0,130.3 262.0,130.0 263.0,129.6 264.0,129.0 265.0,128.4 266.0,127.6 267.0,126.2 268.0,124.3 268.2,123.9 269.2,124.2 271.2,124.9 273.2,125.5 275.2,126.1 277.2,126.7 279.2,127.4 281.2,128.0 283.2,128.5 285.2,129.1 287.2,129.7 289.2,130.3 291.2,130.8 293.2,131.4 295.2,131.9 297.2,132.5 299.2,133.1 301.2,133.6 303.2,134.2 305.2,134.8 307.2,135.4 309.2,136.0 311.2,136.5 313.2,137.0 315.2,137.5 317.2,138.0 319.2,138.5 321.2,138.9 323.2,139.4 325.2,139.8 327.2,140.2 329.2,140.7 331.2,141.0 332.0,141.2 L332.0,145.8 331.2,145.7 329.2,145.3 327.2,144.9 325.2,144.5 323.2,144.1 321.2,143.7 319.2,143.3 317.2,142.9 315.2,142.4 313.2,142.0 311.2,141.5 309.2,141.1 307.2,140.6 305.2,140.1 303.2,139.6 301.2,139.1 299.2,138.6 297.2,138.1 295.2,137.6 293.2,137.1 291.2,136.6 289.2,136.1 287.2,135.6 285.2,135.1 283.2,134.6 281.2,134.1 279.2,133.6 277.2,133.1 275.2,132.6 273.2,132.2 271.2,131.7 269.2,131.2 268.2,131.0 268.0,131.2 267.0,132.4 266.0,133.2 265.0,133.6 264.0,134.0 263.0,134.3 262.0,134.5 261.0,134.7 260.0,134.8 259.0,134.9 258.0,135.0 257.0,135.0 256.0,135.1 255.0,135.2 254.0,135.2 253.0,135.3 252.0,135.3 251.0,135.3 250.0,135.3 249.0,135.3 248.0,135.3 247.0,135.3 246.0,135.3 245.0,135.3 244.0,135.3 243.0,135.3 242.0,135.3 241.0,135.3 240.0,135.3 239.0,135.3 238.0,135.3 237.0,135.3 236.0,135.3 235.0,135.3 234.0,135.3 233.0,135.3 232.0,135.2 231.0,135.2 230.0,135.2 229.0,135.2 228.0,135.2 227.0,135.2 226.0,135.2 225.0,135.2 224.0,135.2 223.0,135.2 222.0,135.1 221.0,135.1 220.0,135.1 219.0,135.0 218.0,135.0 217.0,134.9 216.0,134.9 215.0,134.8 214.0,134.7 213.0,134.7 212.0,134.6 211.0,134.5 210.0,134.5 209.0,134.4 208.0,134.3 207.0,134.2 206.0,134.1 205.0,134.1 204.0,134.0 203.0,133.9 202.0,133.8 201.0,133.7 200.0,133.7 199.0,133.6 198.0,133.5 197.0,133.4 196.0,133.4 195.0,133.3 194.0,133.2 193.0,133.1 192.0,133.0 191.0,133.0 190.0,132.9 189.0,132.8 188.0,132.7 187.0,132.6 186.0,132.5 185.0,132.4 184.0,132.4 183.0,132.3 182.0,132.2 181.0,132.1 180.0,132.0 179.0,131.9 178.0,131.8 177.0,131.8 176.0,131.7 175.0,131.6 174.0,131.5 173.0,131.4 172.0,131.4 171.0,131.3 170.0,131.2 169.0,131.1 168.0,131.0 167.0,131.0 166.0,130.9 165.0,130.8 164.0,130.7 163.0,130.6 162.0,130.5 161.0,130.4 160.0,130.4 159.0,130.3 158.0,130.2 157.0,130.1 156.0,130.0 155.0,130.0 154.0,129.9 153.0,129.8 152.0,129.7 151.0,129.7 150.0,129.6 149.0,129.5 148.0,129.5 147.0,129.4 146.0,129.3 145.0,129.3 144.0,129.2 143.0,129.2 142.0,129.1 141.0,129.1 140.0,129.0 139.0,129.0 138.0,128.9 137.0,128.9 136.0,128.9 135.0,128.8 134.0,128.8 133.0,128.7 132.0,128.7 131.0,128.6 130.0,128.6 129.0,128.6 128.0,128.5 127.0,128.5 126.0,128.4 125.0,128.4 124.0,128.4 123.0,128.3 122.0,128.3 121.0,128.3 120.0,128.2 119.0,128.2 118.0,128.2 117.0,128.1 116.0,128.1 115.0,128.1 114.0,128.1 113.0,128.1 112.0,128.0 111.0,128.0 110.0,128.0 109.0,128.0 108.0,128.0 107.0,128.0 106.0,128.0 105.0,128.0 104.0,128.0 103.0,128.0 102.0,128.0 101.0,128.0 100.0,128.0 99.8,128.1 99.5,128.1 99.2,128.1 99.0,128.1 98.8,128.1 98.5,128.1 98.2,128.1 98.0,128.1 97.8,128.1 97.5,128.1 97.2,128.2 97.0,128.2 96.8,128.2 96.5,128.2 96.2,128.2 96.0,128.2 95.8,128.3 95.5,128.3 95.2,128.3 95.0,128.3 94.8,128.3 94.5,128.4 94.2,128.4 94.0,128.4 93.8,128.5 93.5,128.5 93.2,128.5 93.0,128.6 92.8,128.6 92.5,128.7 92.2,128.7 92.0,128.8 91.8,128.8 91.5,128.9 91.2,129.0 91.0,129.0 90.8,129.1 90.5,129.2 90.2,129.3 90.0,129.5 89.9,129.5 89.8,129.6 89.7,129.6 89.6,129.7 89.5,129.7 89.4,129.8 89.3,129.9 89.2,130.0 89.1,130.0 89.0,130.1 88.9,130.2 88.8,130.3 88.7,130.4 88.6,130.5 88.5,130.6 88.4,130.8 88.3,130.9 88.2,131.0 88.1,131.2 88.0,131.3 87.9,131.5 87.8,131.7 87.7,131.9 87.6,132.1 87.5,132.3 87.4,132.5 87.3,132.8 87.2,133.1 87.1,133.4 87.0,133.8 86.9,134.1 86.8,134.5 86.7,135.0 86.6,135.5 86.5,136.1 86.4,136.7 86.3,137.4 86.2,138.1 86.1,139.0 86.0,140.0 85.9,141.2 85.8,142.5 85.7,144.0 85.6,145.8 85.5,148.0 85.4,150.5 85.3,153.6 85.2,157.4 85.1,162.3 85.0,168.6 84.9,177.3Z" fill="#79ffff" fill-opacity="0.87"/>
<path d="M84.9,177.3 85.0,168.6 85.1,162.3 85.2,157.4 85.3,153.6 85.4,150.5 85.5,148.0 85.6,145.8 85.7,144.0 85.8,142.5 85.9,141.2 86.0,140.0 86.1,139.0 86.2,138.1 86.3,137.4 86.4,136.7 86.5,136.1 86.6,135.5 86.7,135.0 86.8,134.5 86.9,134.1 87.0,133.8 87.1,133.4 87.2,133.1 87.3,132.8 87.4,132.5 87.5,132.3 87.6,132.1 87.7,131.9 87.8,131.7 87.9,131.5 88.0,131.3 88.1,131.2 88.2,131.0 88.3,130.9 88.4,130.8 88.5,130.6 88.6,130.5 88.7,130.4 88.8,130.3 88.9,130.2 89.0,130.1 89.1,130.0 89.2,130.0 89.3,129.9 89.4,129.8 89.5,129.7 89.6,129.7 89.7,129.6 89.8,129.6 89.9,129.5 90.0,129.5 90.2,129.3 90.5,129.2 90.8,129.1 91.0,129.0 91.2,129.0 91.5,128.9 91.8,128.8 92.0,128.8 92.2,128.7 92.5,128.7 92.8,128.6 93.0,128.6 93.2,128.5 93.5,128.5 93.8,128.5 94.0,128.4 94.2,128.4 94.5,128.4 94.8,128.3 95.0,128.3 95.2,128.3 95.5,128.3 95.8,128.3 96.0,128.2 96.2,128.2 96.5,128.2 96.8,128.2 97.0,128.2 97.2,128.2 97.5,128.1 97.8,128.1 98.0,128.1 98.2,128.1 98.5,128.1 98.8,128.1 99.0,128.1 99.2,128.1 99.5,128.1 99.8,128.1 100.0,128.0 101.0,128.0 102.0,128.0 103.0,128.0 104.0,128.0 105.0,128.0 106.0,128.0 107.0,128.0 108.0,128.0 109.0,128.0 110.0,128.0 111.0,128.0 112.0,128.0 113.0,128.1 114.0,128.1 115.0,128.1 116.0,128.1 117.0,128.1 118.0,128.2 119.0,128.2 120.0,128.2 121.0,128.3 122.0,128.3 123.0,128.3 124.0,128.4 125.0,128.4 126.0,128.4 127.0,128.5 128.0,128.5 129.0,128.6 130.0,128.6 131.0,128.6 132.0,128.7 133.0,128.7 134.0,128.8 135.0,128.8 136.0,128.9 137.0,128.9 138.0,128.9 139.0,129.0 140.0,129.0 141.0,129.1 142.0,129.1 143.0,129.2 144.0,129.2 145.0,129.3 146.0,129.3 147.0,129.4 148.0,129.5 149.0,129.5 150.0,129.6 151.0,129.7 152.0,129.7 153.0,129.8 154.0,129.9 155.0,130.0 156.0,130.0 157.0,130.1 158.0,130.2 159.0,130.3 160.0,130.4 161.0,130.4 162.0,130.5 163.0,130.6 164.0,130.7 165.0,130.8 166.0,130.9 167.0,131.0 168.0,131.0 169.0,131.1 170.0,131.2 171.0,131.3 172.0,131.4 173.0,131.4 174.0,131.5 175.0,131.6 176.0,131.7 177.0,131.8 178.0,131.8 179.0,131.9 180.0,132.0 181.0,132.1 182.0,132.2 183.0,132.3 184.0,132.4 185.0,132.4 186.0,132.5 187.0,132.6 188.0,132.7 189.0,132.8 190.0,132.9 191.0,133.0 192.0,133.0 193.0,133.1 194.0,133.2 195.0,133.3 196.0,133.4 197.0,133.4 198.0,133.5 199.0,133.6 200.0,133.7 201.0,133.7 202.0,133.8 203.0,133.9 204.0,134.0 205.0,134.1 206.0,134.1 207.0,134.2 208.0,134.3 209.0,134.4 210.0,134.5 211.0,134.5 212.0,134.6 213.0,134.7 214.0,134.7 215.0,134.8 216.0,134.9 217.0,134.9 218.0,135.0 219.0,135.0 220.0,135.1 221.0,135.1 222.0,135.1 223.0,135.2 224.0,135.2 225.0,135.2 226.0,135.2 227.0,135.2 228.0,135.2 229.0,135.2 230.0,135.2 231.0,135.2 232.0,135.2 233.0,135.3 234.0,135.3 235.0,135.3 236.0,135.3 237.0,135.3 238.0,135.3 239.0,135.3 240.0,135.3 241.0,135.3 242.0,135.3 243.0,135.3 244.0,135.3 245.0,135.3 246.0,135.3 247.0,135.3 248.0,135.3 249.0,135.3 250.0,135.3 251.0,135.3 252.0,135.3 253.0,135.3 254.0,135.2 255.0,135.2 256.0,135.1 257.0,135.0 258.0,135.0 259.0,134.9 260.0,134.8 261.0,134.7 262.0,134.5 263.0,134.3 264.0,134.0 265.0,133.6 266.0,133.2 267.0,132.4 268.0,131.2 268.2,131.0 269.2,131.2 271.2,131.7 273.2,132.2 275.2,132.6 277.2,133.1 279.2,133.6 281.2,134.1 283.2,134.6 285.2,135.1 287.2,135.6 289.2,136.1 291.2,136.6 293.2,137.1 295.2,137.6 297.2,138.1 299.2,138.6 301.2,139.1 303.2,139.6 305.2,140.1 307.2,140.6 309.2,141.1 311.2,141.5 313.2,142.0 315.2,142.4 317.2,142.9 319.2,143.3 321.2,143.7 323.2,144.1 325.2,144.5 327.2,144.9 329.2,145.3 331.2,145.7 332.0,145.8 L332.0,158.5 331.2,158.4 329.2,158.0 327.2,157.6 325.2,157.3 323.2,156.9 321.2,156.5 319.2,156.2 317.2,155.8 315.2,155.4 313.2,155.0 311.2,154.7 309.2,154.3 307.2,153.9 305.2,153.6 303.2,153.2 301.2,152.8 299.2,152.5 297.2,152.1 295.2,151.7 293.2,151.4 291.2,151.0 289.2,150.6 287.2,150.3 285.2,149.9 283.2,149.6 281.2,149.2 279.2,148.9 277.2,148.5 275.2,148.2 273.2,147.9 271.2,147.6 269.2,147.3 268.2,147.1 268.0,147.2 267.0,147.7 266.0,148.3 265.0,148.8 264.0,149.2 263.0,149.5 262.0,149.7 261.0,149.8 260.0,150.0 259.0,150.1 258.0,150.2 257.0,150.3 256.0,150.4 255.0,150.4 254.0,150.5 253.0,150.5 252.0,150.6 251.0,150.6 250.0,150.6 249.0,150.6 248.0,150.6 247.0,150.6 246.0,150.6 245.0,150.6 244.0,150.6 243.0,150.6 242.0,150.6 241.0,150.6 240.0,150.6 239.0,150.6 238.0,150.6 237.0,150.6 236.0,150.6 235.0,150.6 234.0,150.6 233.0,150.6 232.0,150.6 231.0,150.6 230.0,150.6 229.0,150.6 228.0,150.6 227.0,150.6 226.0,150.6 225.0,150.6 224.0,150.6 223.0,150.6 222.0,150.6 221.0,150.6 220.0,150.6 219.0,150.6 218.0,150.5 217.0,150.5 216.0,150.5 215.0,150.5 214.0,150.4 213.0,150.4 212.0,150.4 211.0,150.4 210.0,150.3 209.0,150.3 208.0,150.3 207.0,150.3 206.0,150.2 205.0,150.2 204.0,150.2 203.0,150.1 202.0,150.1 201.0,150.1 200.0,150.1 199.0,150.0 198.0,150.0 197.0,150.0 196.0,150.0 195.0,149.9 194.0,149.9 193.0,149.9 192.0,149.9 191.0,149.8 190.0,149.8 189.0,149.8 188.0,149.7 187.0,149.7 186.0,149.7 185.0,149.6 184.0,149.6 183.0,149.6 182.0,149.6 181.0,149.5 180.0,149.5 179.0,149.5 178.0,149.4 177.0,149.4 176.0,149.4 175.0,149.3 174.0,149.3 173.0,149.3 172.0,149.2 171.0,149.2 170.0,149.2 169.0,149.1 168.0,149.1 167.0,149.1 166.0,149.1 165.0,149.0 164.0,149.0 163.0,149.0 162.0,148.9 161.0,148.9 160.0,148.9 159.0,148.9 158.0,148.8 157.0,148.8 156.0,148.8 155.0,148.8 154.0,148.8 153.0,148.7 152.0,148.7 151.0,148.7 150.0,148.7 149.0,148.7 148.0,148.7 147.0,148.7 146.0,148.6 145.0,148.6 144.0,148.6 143.0,148.6 142.0,148.6 141.0,148.6 140.0,148.6 139.0,148.6 138.0,148.6 137.0,148.6 136.0,148.6 135.0,148.7 134.0,148.7 133.0,148.7 132.0,148.7 131.0,148.7 130.0,148.7 129.0,148.8 128.0,148.8 127.0,148.8 126.0,148.8 125.0,148.9 124.0,148.9 123.0,148.9 122.0,148.9 121.0,149.0 120.0,149.0 119.0,149.0 118.0,149.0 117.0,149.1 116.0,149.1 115.0,149.1 114.0,149.2 113.0,149.2 112.0,149.2 111.0,149.2 110.0,149.3 109.0,149.3 108.0,149.3 107.0,149.3 106.0,149.4 105.0,149.4 104.0,149.4 103.0,149.4 102.0,149.5 101.0,149.5 100.0,149.5 99.8,149.5 99.5,149.5 99.2,149.5 99.0,149.5 98.8,149.5 98.5,149.5 98.2,149.6 98.0,149.6 97.8,149.6 97.5,149.6 97.2,149.6 97.0,149.6 96.8,149.6 96.5,149.6 96.2,149.6 96.0,149.7 95.8,149.7 95.5,149.7 95.2,149.7 95.0,149.7 94.8,149.7 94.5,149.8 94.2,149.8 94.0,149.8 93.8,149.8 93.5,149.9 93.2,149.9 93.0,149.9 92.8,149.9 92.5,150.0 92.2,150.0 92.0,150.1 91.8,150.1 91.5,150.2 91.2,150.2 91.0,150.3 90.8,150.4 90.5,150.4 90.2,150.5 90.0,150.6 89.9,150.7 89.8,150.7 89.7,150.8 89.6,150.8 89.5,150.9 89.4,150.9 89.3,151.0 89.2,151.0 89.1,151.1 89.0,151.2 88.9,151.2 88.8,151.3 88.7,151.4 88.6,151.5 88.5,151.6 88.4,151.7 88.3,151.8 88.2,151.9 88.1,152.0 88.0,152.1 87.9,152.3 87.8,152.4 87.7,152.6 87.6,152.7 87.5,152.9 87.4,153.1 87.3,153.3 87.2,153.6 87.1,153.8 87.0,154.1 86.9,154.4 86.8,154.7 86.7,155.1 86.6,155.5 86.5,155.9 86.4,156.4 86.3,157.0 86.2,157.6 86.1,158.3 86.0,159.1 85.9,160.0 85.8,161.1 85.7,162.3 85.6,163.8 85.5,165.5 85.4,167.5 85.3,170.0 85.2,173.1 85.1,177.0 85.0,182.1 84.9,189.1Z" fill="#ff7979" fill-opacity="0.87"/>
<path d="M489.0,107.5 492.0,107.9 495.0,108.5 498.0,109.0 501.0,109.6 504.0,110.3 507.0,111.0 510.0,111.7 513.0,112.5 516.0,113.3 519.0,114.1 522.0,114.9 525.0,115.8 528.0,116.7 531.0,117.6 534.0,118.6 537.0,119.5 540.0,120.5 543.0,121.5 546.0,122.6 549.0,123.6 552.0,124.7 555.0,125.8 558.0,126.9 561.0,128.0 564.0,129.2 567.0,130.4 570.0,131.6 573.0,132.8 576.0,134.1 579.0,135.4 582.0,136.7 585.0,138.0 588.0,139.4 591.0,140.8 594.0,142.2 597.0,143.7 600.0,145.2 603.0,146.7 606.0,148.3 609.0,149.9 612.0,151.5 615.0,153.2 618.0,154.9 621.0,156.6 624.0,158.4 627.0,160.2 630.0,162.1 633.0,164.0 636.0,165.9 639.0,167.9 642.0,169.9 645.0,171.9 648.0,174.0 651.0,176.1 654.0,178.2 657.0,180.3 660.0,182.5 663.0,184.7 666.0,187.0 669.0,189.2 672.0,191.5 675.0,193.8 678.0,196.1 681.0,198.5 684.0,200.8 687.0,203.2 690.0,205.5 693.0,207.9 696.0,210.2 699.0,212.5 700.0,213.3 701.0,214.1 702.0,214.9 703.0,215.7 704.0,216.4 705.0,217.2 706.0,218.0 707.0,218.7 708.0,219.5 709.0,220.3 710.0,221.0 711.0,221.8 712.0,222.5 713.0,223.3 714.0,224.0 715.0,224.8 716.0,225.5 717.0,226.2 718.0,227.0 719.0,227.7 720.0,228.4 721.0,229.1 722.0,229.7 723.0,230.4 724.0,231.1 725.0,231.7 726.0,232.3 727.0,232.9 728.0,233.5 729.0,234.1 730.0,234.6 731.0,235.1 732.0,235.5 733.0,235.9 734.0,236.3 735.0,236.5 736.0,236.8 737.0,236.9 738.0,237.0 738.3,237.0 L738.3,237.0 738.0,237.0 737.0,236.9 736.0,236.8 735.0,236.6 734.0,236.3 733.0,236.0 732.0,235.6 731.0,235.2 730.0,234.7 729.0,234.2 728.0,233.7 727.0,233.1 726.0,232.5 725.0,231.9 724.0,231.3 723.0,230.7 722.0,230.0 721.0,229.3 720.0,228.7 719.0,228.0 718.0,227.3 717.0,226.6 716.0,225.8 715.0,225.1 714.0,224.4 713.0,223.7 712.0,222.9 711.0,222.2 710.0,221.4 709.0,220.7 708.0,219.9 707.0,219.2 706.0,218.4 705.0,217.6 704.0,216.9 703.0,216.1 702.0,215.3 701.0,214.6 700.0,213.8 699.0,213.0 696.0,210.7 693.0,208.3 690.0,206.0 687.0,203.7 684.0,201.3 681.0,199.0 678.0,196.7 675.0,194.4 672.0,192.1 669.0,189.8 666.0,187.6 663.0,185.4 660.0,183.2 657.0,181.0 654.0,178.9 651.0,176.8 648.0,174.7 645.0,172.7 642.0,170.7 639.0,168.8 636.0,166.8 633.0,165.0 630.0,163.1 627.0,161.3 624.0,159.6 621.0,157.8 618.0,156.1 615.0,154.5 612.0,152.9 609.0,151.3 606.0,149.8 603.0,148.3 600.0,146.8 597.0,145.4 594.0,144.0 591.0,142.6 588.0,141.2 585.0,139.9 582.0,138.6 579.0,137.4 576.0,136.1 573.0,134.9 570.0,133.8 567.0,132.6 564.0,131.5 561.0,130.3 558.0,129.3 555.0,128.2 552.0,127.1 549.0,126.1 546.0,125.1 543.0,124.1 540.0,123.1 537.0,122.1 534.0,121.2 531.0,120.3 528.0,119.4 525.0,118.5 522.0,117.6 519.0,116.8 516.0,116.0 513.0,115.2 510.0,114.4 507.0,113.7 504.0,113.0 501.0,112.4 498.0,111.7 495.0,111.2 492.0,110.6 489.0,110.2Z" fill="#ff7979" fill-opacity="0.87"/>
<path d="M489.0,110.2 492.0,110.6 495.0,111.2 498.0,111.7 501.0,112.4 504.0,113.0 507.0,113.7 510.0,114.4 513.0,115.2 516.0,116.0 519.0,116.8 522.0,117.6 525.0,118.5 528.0,119.4 531.0,120.3 534.0,121.2 537.0,122.1 540.0,123.1 543.0,124.1 546.0,125.1 549.0,126.1 552.0,127.1 555.0,128.2 558.0,129.3 561.0,130.3 564.0,131.5 567.0,132.6 570.0,133.8 573.0,134.9 576.0,136.1 579.0,137.4 582.0,138.6 585.0,139.9 588.0,141.2 591.0,142.6 594.0,144.0 597.0,145.4 600.0,146.8 603.0,148.3 606.0,149.8 609.0,151.3 612.0,152.9 615.0,154.5 618.0,156.1 621.0,157.8 624.0,159.6 627.0,161.3 630.0,163.1 633.0,165.0 636.0,166.8 639.0,168.8 642.0,170.7 645.0,172.7 648.0,174.7 651.0,176.8 654.0,178.9 657.0,181.0 660.0,183.2 663.0,185.4 666.0,187.6 669.0,189.8 672.0,192.1 675.0,194.4 678.0,196.7 681.0,199.0 684.0,201.3 687.0,203.7 690.0,206.0 693.0,208.3 696.0,210.7 699.0,213.0 700.0,213.8 701.0,214.6 702.0,215.3 703.0,216.1 704.0,216.9 705.0,217.6 706.0,218.4 707.0,219.2 708.0,219.9 709.0,220.7 710.0,221.4 711.0,222.2 712.0,222.9 713.0,223.7 714.0,224.4 715.0,225.1 716.0,225.8 717.0,226.6 718.0,227.3 719.0,228.0 720.0,228.7 721.0,229.3 722.0,230.0 723.0,230.7 724.0,231.3 725.0,231.9 726.0,232.5 727.0,233.1 728.0,233.7 729.0,234.2 730.0,234.7 731.0,235.2 732.0,235.6 733.0,236.0 734.0,236.3 735.0,236.6 736.0,236.8 737.0,236.9 738.0,237.0 738.3,237.0 L738.3,237.0 738.0,237.0 737.0,236.9 736.0,236.8 735.0,236.6 734.0,236.3 733.0,236.0 732.0,235.7 731.0,235.3 730.0,234.8 729.0,234.3 728.0,233.8 727.0,233.3 726.0,232.7 725.0,232.1 724.0,231.5 723.0,230.9 722.0,230.3 721.0,229.6 720.0,228.9 719.0,228.3 718.0,227.6 717.0,226.9 716.0,226.2 715.0,225.5 714.0,224.7 713.0,224.0 712.0,223.3 711.0,222.5 710.0,221.8 709.0,221.1 708.0,220.3 707.0,219.6 706.0,218.8 705.0,218.0 704.0,217.3 703.0,216.5 702.0,215.7 701.0,215.0 700.0,214.2 699.0,213.4 696.0,211.1 693.0,208.8 690.0,206.5 687.0,204.1 684.0,201.8 681.0,199.5 678.0,197.2 675.0,194.9 672.0,192.6 669.0,190.4 666.0,188.2 663.0,186.0 660.0,183.8 657.0,181.7 654.0,179.6 651.0,177.5 648.0,175.4 645.0,173.5 642.0,171.5 639.0,169.6 636.0,167.7 633.0,165.9 630.0,164.1 627.0,162.3 624.0,160.6 621.0,158.9 618.0,157.3 615.0,155.7 612.0,154.1 609.0,152.6 606.0,151.1 603.0,149.7 600.0,148.2 597.0,146.9 594.0,145.5 591.0,144.2 588.0,142.9 585.0,141.6 582.0,140.4 579.0,139.2 576.0,138.0 573.0,136.9 570.0,135.7 567.0,134.6 564.0,133.5 561.0,132.5 558.0,131.4 555.0,130.4 552.0,129.3 549.0,128.3 546.0,127.4 543.0,126.4 540.0,125.4 537.0,124.5 534.0,123.6 531.0,122.7 528.0,121.8 525.0,120.9 522.0,120.1 519.0,119.2 516.0,118.4 513.0,117.7 510.0,116.9 507.0,116.2 504.0,115.5 501.0,114.8 498.0,114.2 495.0,113.6 492.0,113.1 489.0,112.6Z" fill="#79ffff" fill-opacity="0.87"/>
<path d="M489.0,112.6 492.0,113.1 495.0,113.6 498.0,114.2 501.0,114.8 504.0,115.5 507.0,116.2 510.0,116.9 513.0,117.7 516.0,118.4 519.0,119.2 522.0,120.1 525.0,120.9 528.0,121.8 531.0,122.7 534.0,123.6 537.0,124.5 540.0,125.4 543.0,126.4 546.0,127.4 549.0,128.3 552.0,129.3 555.0,130.4 558.0,131.4 561.0,132.5 564.0,133.5 567.0,134.6 570.0,135.7 573.0,136.9 576.0,138.0 579.0,139.2 582.0,140.4 585.0,141.6 588.0,142.9 591.0,144.2 594.0,145.5 597.0,146.9 600.0,148.2 603.0,149.7 606.0,151.1 609.0,152.6 612.0,154.1 615.0,155.7 618.0,157.3 621.0,158.9 624.0,160.6 627.0,162.3 630.0,164.1 633.0,165.9 636.0,167.7 639.0,169.6 642.0,171.5 645.0,173.5 648.0,175.4 651.0,177.5 654.0,179.6 657.0,181.7 660.0,183.8 663.0,186.0 666.0,188.2 669.0,190.4 672.0,192.6 675.0,194.9 678.0,197.2 681.0,199.5 684.0,201.8 687.0,204.1 690.0,206.5 693.0,208.8 696.0,211.1 699.0,213.4 700.0,214.2 701.0,215.0 702.0,215.7 703.0,216.5 704.0,217.3 705.0,218.0 706.0,218.8 707.0,219.6 708.0,220.3 709.0,221.1 710.0,221.8 711.0,222.5 712.0,223.3 713.0,224.0 714.0,224.7 715.0,225.5 716.0,226.2 717.0,226.9 718.0,227.6 719.0,228.3 720.0,228.9 721.0,229.6 722.0,230.3 723.0,230.9 724.0,231.5 725.0,232.1 726.0,232.7 727.0,233.3 728.0,233.8 729.0,234.3 730.0,234.8 731.0,235.3 732.0,235.7 733.0,236.0 734.0,236.3 735.0,236.6 736.0,236.8 737.0,236.9 738.0,237.0 738.3,237.0 L738.3,237.0 738.0,237.0 737.0,236.9 736.0,236.8 735.0,236.6 734.0,236.4 733.0,236.1 732.0,235.7 731.0,235.4 730.0,234.9 729.0,234.5 728.0,234.0 727.0,233.5 726.0,232.9 725.0,232.3 724.0,231.8 723.0,231.2 722.0,230.5 721.0,229.9 720.0,229.2 719.0,228.6 718.0,227.9 717.0,227.2 716.0,226.5 715.0,225.8 714.0,225.1 713.0,224.4 712.0,223.7 711.0,223.0 710.0,222.2 709.0,221.5 708.0,220.7 707.0,220.0 706.0,219.2 705.0,218.5 704.0,217.7 703.0,217.0 702.0,216.2 701.0,215.5 700.0,214.7 699.0,213.9 696.0,211.6 693.0,209.3 690.0,207.0 687.0,204.7 684.0,202.4 681.0,200.1 678.0,197.8 675.0,195.5 672.0,193.2 669.0,191.0 666.0,188.8 663.0,186.6 660.0,184.5 657.0,182.4 654.0,180.3 651.0,178.3 648.0,176.3 645.0,174.3 642.0,172.4 639.0,170.5 636.0,168.7 633.0,166.9 630.0,165.1 627.0,163.4 624.0,161.8 621.0,160.1 618.0,158.6 615.0,157.0 612.0,155.5 609.0,154.1 606.0,152.6 603.0,151.2 600.0,149.9 597.0,148.6 594.0,147.3 591.0,146.0 588.0,144.8 585.0,143.6 582.0,142.4 579.0,141.3 576.0,140.2 573.0,139.1 570.0,138.0 567.0,136.9 564.0,135.9 561.0,134.8 558.0,133.8 555.0,132.8 552.0,131.9 549.0,130.9 546.0,129.9 543.0,129.0 540.0,128.1 537.0,127.2 534.0,126.3 531.0,125.4 528.0,124.5 525.0,123.7 522.0,122.8 519.0,122.0 516.0,121.2 513.0,120.4 510.0,119.7 507.0,119.0 504.0,118.3 501.0,117.6 498.0,117.0 495.0,116.4 492.0,115.9 489.0,115.4Z" fill="#ffff79" fill-opacity="0.87"/>
<path d="M489.0,115.4 492.0,115.9 495.0,116.4 498.0,117.0 501.0,117.6 504.0,118.3 507.0,119.0 510.0,119.7 513.0,120.4 516.0,121.2 519.0,122.0 522.0,122.8 525.0,123.7 528.0,124.5 531.0,125.4 534.0,126.3 537.0,127.2 540.0,128.1 543.0,129.0 546.0,129.9 549.0,130.9 552.0,131.9 555.0,132.8 558.0,133.8 561.0,134.8 564.0,135.9 567.0,136.9 570.0,138.0 573.0,139.1 576.0,140.2 579.0,141.3 582.0,142.4 585.0,143.6 588.0,144.8 591.0,146.0 594.0,147.3 597.0,148.6 600.0,149.9 603.0,151.2 606.0,152.6 609.0,154.1 612.0,155.5 615.0,157.0 618.0,158.6 621.0,160.1 624.0,161.8 627.0,163.4 630.0,165.1 633.0,166.9 636.0,168.7 639.0,170.5 642.0,172.4 645.0,174.3 648.0,176.3 651.0,178.3 654.0,180.3 657.0,182.4 660.0,184.5 663.0,186.6 666.0,188.8 669.0,191.0 672.0,193.2 675.0,195.5 678.0,197.8 681.0,200.1 684.0,202.4 687.0,204.7 690.0,207.0 693.0,209.3 696.0,211.6 699.0,213.9 700.0,214.7 701.0,215.5 702.0,216.2 703.0,217.0 704.0,217.7 705.0,218.5 706.0,219.2 707.0,220.0 708.0,220.7 709.0,221.5 710.0,222.2 711.0,223.0 712.0,223.7 713.0,224.4 714.0,225.1 715.0,225.8 716.0,226.5 717.0,227.2 718.0,227.9 719.0,228.6 720.0,229.2 721.0,229.9 722.0,230.5 723.0,231.2 724.0,231.8 725.0,232.3 726.0,232.9 727.0,233.5 728.0,234.0 729.0,234.5 730.0,234.9 731.0,235.4 732.0,235.7 733.0,236.1 734.0,236.4 735.0,236.6 736.0,236.8 737.0,236.9 738.0,237.0 738.3,237.0 L738.3,237.0 738.0,237.0 737.0,237.0 736.0,236.9 735.0,236.8 734.0,236.6 733.0,236.5 732.0,236.3 731.0,236.1 730.0,235.9 729.0,235.6 728.0,235.4 727.0,235.2 726.0,234.9 725.0,234.6 724.0,234.4 723.0,234.1 722.0,233.8 721.0,233.6 720.0,233.3 719.0,233.0 718.0,232.7 717.0,232.4 716.0,232.2 715.0,231.9 714.0,231.6 713.0,231.3 712.0,231.0 711.0,230.8 710.0,230.5 709.0,230.2 708.0,229.9 707.0,229.6 706.0,229.4 705.0,229.1 704.0,228.8 703.0,228.5 702.0,228.2 701.0,228.0 700.0,227.7 699.0,227.4 696.0,226.6 693.0,225.7 690.0,224.9 687.0,224.0 684.0,223.1 681.0,222.3 678.0,221.4 675.0,220.5 672.0,219.7 669.0,218.8 666.0,217.9 663.0,217.0 660.0,216.1 657.0,215.3 654.0,214.4 651.0,213.5 648.0,212.6 645.0,211.7 642.0,210.8 639.0,209.9 636.0,209.0 633.0,208.1 630.0,207.2 627.0,206.3 624.0,205.4 621.0,204.5 618.0,203.6 615.0,202.8 612.0,201.9 609.0,201.0 606.0,200.2 603.0,199.3 600.0,198.4 597.0,197.6 594.0,196.8 591.0,195.9 588.0,195.1 585.0,194.3 582.0,193.5 579.0,192.7 576.0,191.9 573.0,191.1 570.0,190.3 567.0,189.6 564.0,188.8 561.0,188.1 558.0,187.4 555.0,186.6 552.0,185.9 549.0,185.3 546.0,184.6 543.0,183.9 540.0,183.3 537.0,182.6 534.0,182.0 531.0,181.4 528.0,180.8 525.0,180.3 522.0,179.7 519.0,179.2 516.0,178.6 513.0,178.1 510.0,177.6 507.0,177.1 504.0,176.6 501.0,176.2 498.0,175.7 495.0,175.2 492.0,174.7 489.0,174.2Z" fill="#7979ff" fill-opacity="0.87"/>
<path d="M489.0,174.2 492.0,174.7 495.0,175.2 498.0,175.7 501.0,176.2 504.0,176.6 507.0,177.1 510.0,177.6 513.0,178.1 516.0,178.6 519.0,179.2 522.0,179.7 525.0,180.3 528.0,180.8 531.0,181.4 534.0,182.0 537.0,182.6 540.0,183.3 543.0,183.9 546.0,184.6 549.0,185.3 552.0,185.9 555.0,186.6 558.0,187.4 561.0,188.1 564.0,188.8 567.0,189.6 570.0,190.3 573.0,191.1 576.0,191.9 579.0,192.7 582.0,193.5 585.0,194.3 588.0,195.1 591.0,195.9 594.0,196.8 597.0,197.6 600.0,198.4 603.0,199.3 606.0,200.2 609.0,201.0 612.0,201.9 615.0,202.8 618.0,203.6 621.0,204.5 624.0,205.4 627.0,206.3 630.0,207.2 633.0,208.1 636.0,209.0 639.0,209.9 642.0,210.8 645.0,211.7 648.0,212.6 651.0,213.5 654.0,214.4 657.0,215.3 660.0,216.1 663.0,217.0 666.0,217.9 669.0,218.8 672.0,219.7 675.0,220.5 678.0,221.4 681.0,222.3 684.0,223.1 687.0,224.0 690.0,224.9 693.0,225.7 696.0,226.6 699.0,227.4 700.0,227.7 701.0,228.0 702.0,228.2 703.0,228.5 704.0,228.8 705.0,229.1 706.0,229.4 707.0,229.6 708.0,229.9 709.0,230.2 710.0,230.5 711.0,230.8 712.0,231.0 713.0,231.3 714.0,231.6 715.0,231.9 716.0,232.2 717.0,232.4 718.0,232.7 719.0,233.0 720.0,233.3 721.0,233.6 722.0,233.8 723.0,234.1 724.0,234.4 725.0,234.6 726.0,234.9 727.0,235.2 728.0,235.4 729.0,235.6 730.0,235.9 731.0,236.1 732.0,236.3 733.0,236.5 734.0,236.6 735.0,236.8 736.0,236.9 737.0,237.0 738.0,237.0 738.3,237.0 L738.3,237.0 738.0,237.0 737.0,237.0 736.0,236.9 735.0,236.8 734.0,236.6 733.0,236.4 732.0,236.2 731.0,236.0 730.0,235.8 729.0,235.6 728.0,235.3 727.0,235.1 726.0,234.8 725.0,234.5 724.0,234.3 723.0,234.0 722.0,233.7 721.0,233.4 720.0,233.2 719.0,232.9 718.0,232.6 717.0,232.3 716.0,232.1 715.0,231.8 714.0,231.5 713.0,231.2 712.0,231.0 711.0,230.7 710.0,230.4 709.0,230.1 708.0,229.9 707.0,229.6 706.0,229.3 705.0,229.1 704.0,228.8 703.0,228.5 702.0,228.3 701.0,228.0 700.0,227.7 699.0,227.5 696.0,226.7 693.0,225.9 690.0,225.2 687.0,224.4 684.0,223.6 681.0,222.8 678.0,222.1 675.0,221.3 672.0,220.5 669.0,219.8 666.0,219.0 663.0,218.2 660.0,217.5 657.0,216.7 654.0,215.9 651.0,215.2 648.0,214.4 645.0,213.7 642.0,212.9 639.0,212.1 636.0,211.4 633.0,210.6 630.0,209.9 627.0,209.1 624.0,208.4 621.0,207.6 618.0,206.9 615.0,206.1 612.0,205.4 609.0,204.6 606.0,203.9 603.0,203.2 600.0,202.4 597.0,201.7 594.0,201.0 591.0,200.3 588.0,199.6 585.0,198.9 582.0,198.1 579.0,197.4 576.0,196.7 573.0,196.1 570.0,195.4 567.0,194.7 564.0,194.0 561.0,193.3 558.0,192.7 555.0,192.0 552.0,191.4 549.0,190.7 546.0,190.1 543.0,189.4 540.0,188.8 537.0,188.2 534.0,187.6 531.0,187.0 528.0,186.4 525.0,185.8 522.0,185.2 519.0,184.6 516.0,184.1 513.0,183.5 510.0,183.0 507.0,182.4 504.0,181.9 501.0,181.4 498.0,180.8 495.0,180.3 492.0,179.8 489.0,179.4Z" fill="#ffff79" fill-opacity="0.87"/>
<path d="M489.0,179.4 492.0,179.8 495.0,180.3 498.0,180.8 501.0,181.4 504.0,181.9 507.0,182.4 510.0,183.0 513.0,183.5 516.0,184.1 519.0,184.6 522.0,185.2 525.0,185.8 528.0,186.4 531.0,187.0 534.0,187.6 537.0,188.2 540.0,188.8 543.0,189.4 546.0,190.1 549.0,190.7 552.0,191.4 555.0,192.0 558.0,192.7 561.0,193.3 564.0,194.0 567.0,194.7 570.0,195.4 573.0,196.1 576.0,196.7 579.0,197.4 582.0,198.1 585.0,198.9 588.0,199.6 591.0,200.3 594.0,201.0 597.0,201.7 600.0,202.4 603.0,203.2 606.0,203.9 609.0,204.6 612.0,205.4 615.0,206.1 618.0,206.9 621.0,207.6 624.0,208.4 627.0,209.1 630.0,209.9 633.0,210.6 636.0,211.4 639.0,212.1 642.0,212.9 645.0,213.7 648.0,214.4 651.0,215.2 654.0,215.9 657.0,216.7 660.0,217.5 663.0,218.2 666.0,219.0 669.0,219.8 672.0,220.5 675.0,221.3 678.0,222.1 681.0,222.8 684.0,223.6 687.0,224.4 690.0,225.2 693.0,225.9 696.0,226.7 699.0,227.5 700.0,227.7 701.0,228.0 702.0,228.3 703.0,228.5 704.0,228.8 705.0,229.1 706.0,229.3 707.0,229.6 708.0,229.9 709.0,230.1 710.0,230.4 711.0,230.7 712.0,231.0 713.0,231.2 714.0,231.5 715.0,231.8 716.0,232.1 717.0,232.3 718.0,232.6 719.0,232.9 720.0,233.2 721.0,233.4 722.0,233.7 723.0,234.0 724.0,234.3 725.0,234.5 726.0,234.8 727.0,235.1 728.0,235.3 729.0,235.6 730.0,235.8 731.0,236.0 732.0,236.2 733.0,236.4 734.0,236.6 735.0,236.8 736.0,236.9 737.0,237.0 738.0,237.0 738.3,237.0 L738.3,237.0 738.0,237.0 737.0,237.0 736.0,236.9 735.0,236.8 734.0,236.6 733.0,236.5 732.0,236.3 731.0,236.1 730.0,235.8 729.0,235.6 728.0,235.4 727.0,235.1 726.0,234.9 725.0,234.6 724.0,234.3 723.0,234.1 722.0,233.8 721.0,233.5 720.0,233.3 719.0,233.0 718.0,232.7 717.0,232.5 716.0,232.2 715.0,231.9 714.0,231.7 713.0,231.4 712.0,231.1 711.0,230.9 710.0,230.6 709.0,230.3 708.0,230.1 707.0,229.8 706.0,229.5 705.0,229.3 704.0,229.0 703.0,228.8 702.0,228.5 701.0,228.3 700.0,228.0 699.0,227.7 696.0,227.0 693.0,226.2 690.0,225.4 687.0,224.7 684.0,223.9 681.0,223.2 678.0,222.4 675.0,221.7 672.0,220.9 669.0,220.1 666.0,219.4 663.0,218.6 660.0,217.9 657.0,217.1 654.0,216.3 651.0,215.6 648.0,214.8 645.0,214.1 642.0,213.3 639.0,212.6 636.0,211.8 633.0,211.1 630.0,210.3 627.0,209.6 624.0,208.8 621.0,208.1 618.0,207.3 615.0,206.6 612.0,205.9 609.0,205.1 606.0,204.4 603.0,203.7 600.0,202.9 597.0,202.2 594.0,201.5 591.0,200.8 588.0,200.1 585.0,199.4 582.0,198.7 579.0,198.0 576.0,197.3 573.0,196.6 570.0,195.9 567.0,195.3 564.0,194.6 561.0,193.9 558.0,193.3 555.0,192.6 552.0,192.0 549.0,191.4 546.0,190.7 543.0,190.1 540.0,189.5 537.0,188.9 534.0,188.3 531.0,187.7 528.0,187.1 525.0,186.5 522.0,186.0 519.0,185.4 516.0,184.9 513.0,184.3 510.0,183.8 507.0,183.3 504.0,182.8 501.0,182.3 498.0,181.8 495.0,181.3 492.0,180.8 489.0,180.4Z" fill="#79ffff" fill-opacity="0.87"/>
<path d="M489.0,180.4 492.0,180.8 495.0,181.3 498.0,181.8 501.0,182.3 504.0,182.8 507.0,183.3 510.0,183.8 513.0,184.3 516.0,184.9 519.0,185.4 522.0,186.0 525.0,186.5 528.0,187.1 531.0,187.7 534.0,188.3 537.0,188.9 540.0,189.5 543.0,190.1 546.0,190.7 549.0,191.4 552.0,192.0 555.0,192.6 558.0,193.3 561.0,193.9 564.0,194.6 567.0,195.3 570.0,195.9 573.0,196.6 576.0,197.3 579.0,198.0 582.0,198.7 585.0,199.4 588.0,200.1 591.0,200.8 594.0,201.5 597.0,202.2 600.0,202.9 603.0,203.7 606.0,204.4 609.0,205.1 612.0,205.9 615.0,206.6 618.0,207.3 621.0,208.1 624.0,208.8 627.0,209.6 630.0,210.3 633.0,211.1 636.0,211.8 639.0,212.6 642.0,213.3 645.0,214.1 648.0,214.8 651.0,215.6 654.0,216.3 657.0,217.1 660.0,217.9 663.0,218.6 666.0,219.4 669.0,220.1 672.0,220.9 675.0,221.7 678.0,222.4 681.0,223.2 684.0,223.9 687.0,224.7 690.0,225.4 693.0,226.2 696.0,227.0 699.0,227.7 700.0,228.0 701.0,228.3 702.0,228.5 703.0,228.8 704.0,229.0 705.0,229.3 706.0,229.5 707.0,229.8 708.0,230.1 709.0,230.3 710.0,230.6 711.0,230.9 712.0,231.1 713.0,231.4 714.0,231.7 715.0,231.9 716.0,232.2 717.0,232.5 718.0,232.7 719.0,233.0 720.0,233.3 721.0,233.5 722.0,233.8 723.0,234.1 724.0,234.3 725.0,234.6 726.0,234.9 727.0,235.1 728.0,235.4 729.0,235.6 730.0,235.8 731.0,236.1 732.0,236.3 733.0,236.5 734.0,236.6 735.0,236.8 736.0,236.9 737.0,237.0 738.0,237.0 738.3,237.0 L738.3,237.0 738.0,237.0 737.0,237.0 736.0,236.9 735.0,236.8 734.0,236.7 733.0,236.5 732.0,236.3 731.0,236.2 730.0,236.0 729.0,235.8 728.0,235.5 727.0,235.3 726.0,235.1 725.0,234.9 724.0,234.6 723.0,234.4 722.0,234.1 721.0,233.9 720.0,233.7 719.0,233.4 718.0,233.2 717.0,232.9 716.0,232.7 715.0,232.4 714.0,232.2 713.0,231.9 712.0,231.7 711.0,231.4 710.0,231.2 709.0,231.0 708.0,230.7 707.0,230.5 706.0,230.2 705.0,230.0 704.0,229.7 703.0,229.5 702.0,229.3 701.0,229.0 700.0,228.8 699.0,228.5 696.0,227.8 693.0,227.1 690.0,226.4 687.0,225.6 684.0,224.9 681.0,224.2 678.0,223.5 675.0,222.8 672.0,222.0 669.0,221.3 666.0,220.6 663.0,219.8 660.0,219.1 657.0,218.4 654.0,217.6 651.0,216.9 648.0,216.2 645.0,215.4 642.0,214.7 639.0,213.9 636.0,213.2 633.0,212.5 630.0,211.7 627.0,211.0 624.0,210.3 621.0,209.5 618.0,208.8 615.0,208.1 612.0,207.4 609.0,206.7 606.0,205.9 603.0,205.2 600.0,204.5 597.0,203.8 594.0,203.1 591.0,202.4 588.0,201.7 585.0,201.1 582.0,200.4 579.0,199.7 576.0,199.0 573.0,198.4 570.0,197.7 567.0,197.1 564.0,196.4 561.0,195.8 558.0,195.2 555.0,194.6 552.0,194.0 549.0,193.4 546.0,192.8 543.0,192.2 540.0,191.6 537.0,191.1 534.0,190.5 531.0,190.0 528.0,189.4 525.0,188.9 522.0,188.4 519.0,187.9 516.0,187.4 513.0,186.9 510.0,186.5 507.0,186.0 504.0,185.6 501.0,185.2 498.0,184.8 495.0,184.4 492.0,184.0 489.0,183.6Z" fill="#ff7979" fill-opacity="0.87"/>
<path d="M84.9,163.6 85.0,153.0 85.1,145.2 85.2,139.2 85.3,134.5 85.4,130.7 85.5,127.6 85.6,125.0 85.7,122.8 85.8,120.9 85.9,119.3 86.0,117.8 86.1,116.6 86.2,115.5 86.3,114.6 86.4,113.7 86.5,113.0 86.6,112.3 86.7,111.7 86.8,111.1 86.9,110.6 87.0,110.1 87.1,109.7 87.2,109.3 87.3,109.0 87.4,108.6 87.5,108.3 87.6,108.1 87.7,107.8 87.8,107.6 87.9,107.4 88.0,107.2 88.1,107.0 88.2,106.8 88.3,106.6 88.4,106.5 88.5,106.3 88.6,106.2 88.7,106.0 88.8,105.9 88.9,105.8 89.0,105.7 89.1,105.6 89.2,105.5 89.3,105.4 89.4,105.3 89.5,105.2 89.6,105.2 89.7,105.1 89.8,105.0 89.9,104.9 90.0,104.9 90.2,104.7 90.5,104.6 90.8,104.5 91.0,104.4 91.2,104.3 91.5,104.2 91.8,104.1 92.0,104.0 92.2,104.0 92.5,103.9 92.8,103.9 93.0,103.8 93.2,103.8 93.5,103.7 93.8,103.7 94.0,103.6 94.2,103.6 94.5,103.6 94.8,103.5 95.0,103.5 95.2,103.5 95.5,103.5 95.8,103.5 96.0,103.4 96.2,103.4 96.5,103.4 96.8,103.4 97.0,103.4 97.2,103.3 97.5,103.3 97.8,103.3 98.0,103.3 98.2,103.3 98.5,103.3 98.8,103.3 99.0,103.3 99.2,103.3 99.5,103.3 99.8,103.2 100.0,103.2 101.0,103.2 102.0,103.2 103.0,103.2 104.0,103.2 105.0,103.2 106.0,103.1 107.0,103.1 108.0,103.1 109.0,103.1" stroke="#0000f4" stroke-width="2.15" stroke-dasharray="4.1 1.5" fill="none"/>
<path d="M108.0,103.1 109.0,103.1 110.0,103.1 111.0,103.1 112.0,103.1 113.0,103.1 114.0,103.1 115.0,103.1 116.0,103.1 117.0,103.2 118.0,103.2 119.0,103.2 120.0,103.2 121.0,103.2 122.0,103.2 123.0,103.2 124.0,103.2 125.0,103.2 126.0,103.2 127.0,103.2 128.0,103.2 129.0,103.2 130.0,103.2 131.0,103.2 132.0,103.2 133.0,103.3 134.0,103.3 135.0,103.3 136.0,103.3 137.0,103.3 138.0,103.3 139.0,103.3 140.0,103.3 141.0,103.3 142.0,103.4 143.0,103.4 144.0,103.4 145.0,103.4 146.0,103.4 147.0,103.4 148.0,103.4 149.0,103.5 150.0,103.5 151.0,103.5 152.0,103.5 153.0,103.5 154.0,103.5 155.0,103.6 156.0,103.6 157.0,103.6 158.0,103.6 159.0,103.6 160.0,103.7 161.0,103.7 162.0,103.7 163.0,103.7 164.0,103.7 165.0,103.8 166.0,103.8 167.0,103.8 168.0,103.8 169.0,103.9 170.0,103.9 171.0,103.9 172.0,103.9 173.0,104.0 174.0,104.0 175.0,104.0 176.0,104.0 177.0,104.0 178.0,104.1 179.0,104.1 180.0,104.1 181.0,104.1 182.0,104.2 183.0,104.2 184.0,104.2 185.0,104.2 186.0,104.3 187.0,104.3 188.0,104.3 189.0,104.3 190.0,104.3 191.0,104.4 192.0,104.4 193.0,104.4 194.0,104.4 195.0,104.4 196.0,104.5 197.0,104.5 198.0,104.5 199.0,104.5 200.0,104.5 201.0,104.6 202.0,104.6 203.0,104.6 204.0,104.6 205.0,104.7 206.0,104.7 207.0,104.7 208.0,104.7 209.0,104.8 210.0,104.8 211.0,104.8 212.0,104.8 213.0,104.9 214.0,104.9 215.0,104.9 216.0,104.9 217.0,104.9 218.0,104.9 219.0,105.0 220.0,105.0 221.0,105.0 222.0,105.0 223.0,105.0 224.0,105.0 225.0,105.0 226.0,105.0 227.0,105.0 228.0,105.0 229.0,104.9 230.0,104.9 231.0,104.9 232.0,104.8 233.0,104.8 234.0,104.8 235.0,104.7 236.0,104.6 237.0,104.6 238.0,104.5 239.0,104.4 240.0,104.4 241.0,104.3 242.0,104.2 243.0,104.2 244.0,104.1 245.0,104.0 246.0,103.9 247.0,103.8 248.0,103.7 249.0,103.6 250.0,103.5 251.0,103.3 252.0,103.2 253.0,103.0 254.0,102.8 255.0,102.6 256.0,102.4 257.0,102.1 258.0,101.8 259.0,101.4" stroke="#0000f4" stroke-width="2.15" fill="none"/>
<path d="M258.0,101.8 259.0,101.4 260.0,101.0 261.0,100.6 262.0,100.1 263.0,99.5 264.0,98.8 265.0,98.0 266.0,96.8 267.0,95.2 268.0,93.4 268.2,93.0 269.2,93.4 271.2,94.2 273.2,94.9 275.2,95.7 277.2,96.4 279.2,97.2 281.2,97.9 283.2,98.6 285.2,99.3 287.2,100.0 289.2,100.7 291.2,101.4 293.2,102.0 295.2,102.7 297.2,103.3 299.2,104.0 301.2,104.6 303.2,105.2 305.2,105.8 307.2,106.3 309.2,106.9 311.2,107.5 313.2,108.0 315.2,108.6 317.2,109.1 319.2,109.6 321.2,110.1 323.2,110.7 325.2,111.2 327.2,111.7 329.2,112.3 331.2,112.8 333.2,113.3 335.2,113.9 337.2,114.4 339.2,114.9 341.2,115.4 343.2,115.9 345.2,116.5 347.2,117.0 349.2,117.5 351.2,118.0 353.2,118.5 355.2,119.0 357.2,119.5 359.2,120.1 361.2,120.6 363.2,121.1 365.2,121.6 367.2,122.1 369.2,122.7 371.2,123.2 373.2,123.7 375.2,124.3 377.2,124.8 379.2,125.3 381.2,125.8 383.2,126.4 385.2,126.9 387.2,127.5 389.2,128.0 391.2,128.5 393.2,129.1 395.2,129.6 397.2,130.1 399.2,130.7 401.2,131.2 403.2,131.8 405.2,132.3 407.2,132.8 409.2,133.4 411.2,133.9 413.2,134.5 415.2,135.0 417.2,135.6 419.2,136.1 421.2,136.7 423.2,137.2 425.2,137.8 427.2,138.3 429.2,138.9 431.2,139.4 433.2,140.0 435.2,140.5 437.2,141.1 439.2,141.6 441.2,142.2 443.2,142.7 445.2,143.3 447.2,143.9 449.2,144.4 451.2,145.0 452.0,145.2" stroke="#0000f4" stroke-width="2.15" stroke-dasharray="4.1 1.5" fill="none"/>
<path d="M332.0,145.2 336.0,145.2 340.0,145.3 344.0,145.3 348.0,145.4 352.0,145.4 356.0,145.5 360.0,145.6 364.0,145.6 368.0,145.7 372.0,145.8 376.0,145.9 380.0,146.0 384.0,146.1 388.0,146.3 392.0,146.4 396.0,146.6 400.0,146.7 404.0,146.9 408.0,147.1 412.0,147.3 416.0,147.5 420.0,147.7 424.0,148.0 428.0,148.3 432.0,148.5 436.0,148.9 440.0,149.2 444.0,149.5 448.0,149.8 452.0,150.2" stroke="#0000f4" stroke-width="2.15" stroke-dasharray="4.1 1.5" fill="none"/>
<path d="M489.0,155.5 492.0,156.2 495.0,156.8 498.0,157.4 501.0,158.0 504.0,158.6 507.0,159.2 510.0,159.8 513.0,160.4 516.0,161.0 519.0,161.6 522.0,162.2 525.0,162.8 528.0,163.5 531.0,164.1 534.0,164.7 537.0,165.4 540.0,166.1 543.0,166.7 546.0,167.4 549.0,168.1 552.0,168.8 555.0,169.6 558.0,170.3 561.0,171.1 564.0,171.9 567.0,172.7 570.0,173.5 573.0,174.4 576.0,175.2 579.0,176.1 582.0,177.0 585.0,178.0 588.0,178.9 591.0,179.9 594.0,180.9 597.0,181.9 600.0,182.9 603.0,184.0 606.0,185.0 609.0,186.1 612.0,187.2 615.0,188.4 618.0,189.5 621.0,190.7 624.0,191.9 627.0,193.1 630.0,194.3 633.0,195.5 636.0,196.8 639.0,198.0 642.0,199.3 645.0,200.6 648.0,201.9 651.0,203.2 654.0,204.5 657.0,205.8 660.0,207.1 663.0,208.4 666.0,209.8 669.0,211.1 672.0,212.4 675.0,213.7 678.0,215.0 681.0,216.4 684.0,217.7 687.0,219.0 690.0,220.3 693.0,221.5 696.0,222.8 699.0,224.1 700.0,224.5 701.0,224.9 702.0,225.3 703.0,225.7 704.0,226.1 705.0,226.5 706.0,227.0 707.0,227.4 708.0,227.8 709.0,228.2 710.0,228.6 711.0,229.0 712.0,229.4 713.0,229.7 714.0,230.1 715.0,230.5 716.0,230.9 717.0,231.3 718.0,231.7 719.0,232.0 720.0,232.4 721.0,232.8 722.0,233.1 723.0,233.5 724.0,233.8 725.0,234.2 726.0,234.5 727.0,234.8 728.0,235.1 729.0,235.4 730.0,235.7 731.0,235.9 732.0,236.2 733.0,236.4 734.0,236.6 735.0,236.7 736.0,236.9 737.0,237.0 738.0,237.0 738.3,237.0" stroke="#0000f4" stroke-width="2.15" fill="none"/>
<rect x="332" y="9.4" width="39.8" height="227.1" fill="#bebebe"/>
<rect x="451.6" y="9.4" width="37.4" height="227.1" fill="#bebebe"/>
<path d="M76.0,8.9H745.6M76.0,237.0H745.6M83.4,1.2V244.7M738.3,8.9V237.0M112.0,8.9V5.1M112.0,237.0V240.8M140.7,8.9V1.2M140.7,237.0V244.7M169.3,8.9V5.1M169.3,237.0V240.8M197.9,8.9V1.2M197.9,237.0V244.7M226.6,8.9V5.1M226.6,237.0V240.8M255.2,8.9V1.2M255.2,237.0V244.7M283.8,8.9V5.1M283.8,237.0V240.8M312.4,8.9V1.2M312.4,237.0V244.7M341.1,8.9V5.1M341.1,237.0V240.8M369.7,8.9V1.2M369.7,237.0V244.7M398.3,8.9V5.1M398.3,237.0V240.8M427.0,8.9V1.2M427.0,237.0V244.7M455.6,8.9V5.1M455.6,237.0V240.8M484.2,8.9V1.2M484.2,237.0V244.7M512.9,8.9V5.1M512.9,237.0V240.8M541.5,8.9V1.2M541.5,237.0V244.7M570.1,8.9V5.1M570.1,237.0V240.8M598.7,8.9V1.2M598.7,237.0V244.7M627.4,8.9V5.1M627.4,237.0V240.8M656.0,8.9V1.2M656.0,237.0V244.7M684.6,8.9V5.1M684.6,237.0V240.8M713.3,8.9V1.2M713.3,237.0V244.7M83.4,199.0H76.0M738.3,199.0H745.6M83.4,161.0H76.0M738.3,161.0H745.6M83.4,122.9H76.0M738.3,122.9H745.6M83.4,84.9H76.0M738.3,84.9H745.6M83.4,46.9H76.0M738.3,46.9H745.6" stroke="#000" stroke-width="1.45" fill="none"/>
<text x="40.3" y="242.0" textLength="25" lengthAdjust="spacingAndGlyphs" font-size="18.7" fill="#000">0.0</text>
<text x="40.3" y="204.0" textLength="25" lengthAdjust="spacingAndGlyphs" font-size="18.7" fill="#000">0.1</text>
<text x="40.3" y="166.0" textLength="25" lengthAdjust="spacingAndGlyphs" font-size="18.7" fill="#000">0.2</text>
<text x="40.3" y="127.9" textLength="25" lengthAdjust="spacingAndGlyphs" font-size="18.7" fill="#000">0.3</text>
<text x="40.3" y="89.9" textLength="25" lengthAdjust="spacingAndGlyphs" font-size="18.7" fill="#000">0.4</text>
<text x="40.3" y="51.9" textLength="25" lengthAdjust="spacingAndGlyphs" font-size="18.7" fill="#000">0.5</text>
<text x="40.3" y="13.9" textLength="25" lengthAdjust="spacingAndGlyphs" font-size="18.7" fill="#000">0.6</text>
<text x="81.2" y="267.8" textLength="10" lengthAdjust="spacingAndGlyphs" font-size="18.7" fill="#000">0</text>
<text x="138.5" y="267.8" textLength="10" lengthAdjust="spacingAndGlyphs" font-size="18.7" fill="#000">2</text>
<text x="195.7" y="267.8" textLength="10" lengthAdjust="spacingAndGlyphs" font-size="18.7" fill="#000">4</text>
<text x="253.0" y="267.8" textLength="10" lengthAdjust="spacingAndGlyphs" font-size="18.7" fill="#000">6</text>
<text x="310.2" y="267.8" textLength="10" lengthAdjust="spacingAndGlyphs" font-size="18.7" fill="#000">8</text>
<text x="363.1" y="267.8" textLength="20" lengthAdjust="spacingAndGlyphs" font-size="18.7" fill="#000">10</text>
<text x="420.4" y="267.8" textLength="20" lengthAdjust="spacingAndGlyphs" font-size="18.7" fill="#000">12</text>
<text x="477.6" y="267.8" textLength="20" lengthAdjust="spacingAndGlyphs" font-size="18.7" fill="#000">14</text>
<text x="534.9" y="267.8" textLength="20" lengthAdjust="spacingAndGlyphs" font-size="18.7" fill="#000">16</text>
<text x="592.1" y="267.8" textLength="20" lengthAdjust="spacingAndGlyphs" font-size="18.7" fill="#000">18</text>
<text x="649.4" y="267.8" textLength="20" lengthAdjust="spacingAndGlyphs" font-size="18.7" fill="#000">20</text>
<text x="706.7" y="267.8" textLength="20" lengthAdjust="spacingAndGlyphs" font-size="18.7" fill="#000">22</text>
<text x="369" y="295.3" font-style="italic" font-size="18.7" fill="#000">q</text><text x="378.4" y="288.1" font-size="13.5" fill="#000">2</text><text x="394.4" y="295.3" font-size="18.7" fill="#000">[</text><text x="399.7" y="295.3" textLength="38.6" lengthAdjust="spacingAndGlyphs" font-size="18.7" fill="#000">GeV</text><text x="438.7" y="288.1" font-size="13.5" fill="#000">2</text><text x="446.4" y="295.3" font-size="18.7" fill="#000">]</text>
<g transform="translate(16.6,213.3) rotate(-90)"><text x="-0.3" y="0" font-size="18.7" fill="#000" >d</text><text x="11.2" y="0" font-size="18.7" fill="#000" font-style="italic">B</text><path d="M25.9,4.6L33.4,-14" stroke="#000" stroke-width="0.9" fill="none"/><text x="34.2" y="0" font-size="18.7" fill="#000" >d</text><text x="44.3" y="0" font-size="18.7" fill="#000" font-style="italic">q</text><text x="54.4" y="-7.2" font-size="13.5" fill="#000" >2</text><text x="69.8" y="0" font-size="18.7" fill="#000" >[</text><text x="74.8" y="0" font-size="18.7" fill="#000" textLength="20.6" lengthAdjust="spacingAndGlyphs">10</text><path d="M95.3,-11.4H105.6" stroke="#000" stroke-width="0.8" fill="none"/><text x="108.6" y="-7.2" font-size="13.5" fill="#000" >7</text><path d="M119.4,4.6L127.2,-14" stroke="#000" stroke-width="0.9" fill="none"/><text x="126.4" y="0" font-size="18.7" fill="#000" textLength="38.4" lengthAdjust="spacingAndGlyphs">GeV</text><text x="166.2" y="-7.2" font-size="13.5" fill="#000" >2</text><text x="173.4" y="0" font-size="18.7" fill="#000" >]</text></g>
<text x="336.2" y="127.2" font-size="19" fill="#000">J</text>
<path d="M346.7,131.4L353.4,113.4" stroke="#000" stroke-width="0.9" fill="none"/>
<text x="356.3" y="127.2" textLength="13.2" lengthAdjust="spacingAndGlyphs" font-size="19" fill="#000">Ψ</text>
<text x="462.6" y="126.9" textLength="13.2" lengthAdjust="spacingAndGlyphs" font-size="19" fill="#000">Ψ</text>
<path d="M477.6,120L480.6,113.9" stroke="#000" stroke-width="1.3" stroke-linecap="round" fill="none"/>
</svg>
</body></html>
